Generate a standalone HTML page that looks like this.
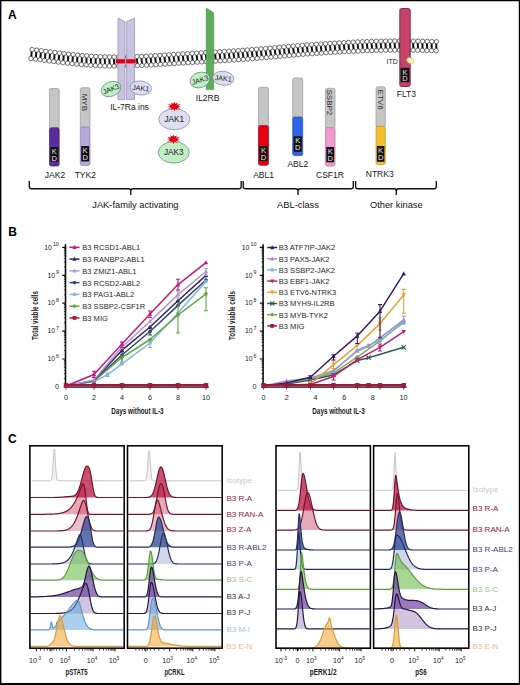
<!DOCTYPE html>
<html><head><meta charset="utf-8"><style>
html,body{margin:0;padding:0;background:#fff;}
svg{display:block;font-family:"Liberation Sans", sans-serif;}
</style></head><body>
<svg width="520" height="685" viewBox="0 0 520 685">
<rect x="0" y="0" width="520" height="685" fill="#fff"/>
<text x="8" y="18.6" font-size="12" font-weight="bold" fill="#000">A</text>
<g>
<path d="M31.81 49.49L31.19 58.51M36.38 50.1L35.76 59.12M40.94 50.72L40.34 59.74M45.51 51.32L44.91 60.34M50.07 51.92L49.5 60.94M54.62 52.5L54.09 61.53M59.18 53.07L58.68 62.1M63.74 53.61L63.28 62.65M68.29 54.12L67.89 63.17M72.84 54.61L72.51 63.66M77.39 55.06L77.13 64.12M81.95 55.48L81.76 64.54M86.5 55.85L86.4 64.92M91.05 56.17L91.05 65.25M95.6 56.45L95.7 65.53M100.15 56.66L100.37 65.76M104.7 56.83L105.03 65.92M109.25 56.93L109.69 66.03M113.81 56.99L114.36 66.09M118.38 56.99L119.01 66.09M122.94 56.95L123.67 66.05M127.51 56.86L128.32 65.96M132.08 56.74L132.97 65.83M136.65 56.57L137.61 65.67M141.23 56.38L142.25 65.47M145.81 56.15L146.88 65.24M150.39 55.9L151.51 64.98M154.97 55.63L156.13 64.71M159.56 55.34L160.74 64.42M164.16 55.04L165.35 64.13M168.76 54.74L169.95 63.82M173.36 54.44L174.55 63.52M177.97 54.15L179.14 63.23M182.58 53.87L183.73 62.95M187.2 53.59L188.32 62.68M191.81 53.33L192.92 62.41M196.41 53.07L197.52 62.15M201.02 52.81L202.12 61.9M205.62 52.56L206.73 61.64M210.22 52.3L211.33 61.38M214.82 52.04L215.94 61.12M219.41 51.77L220.55 60.85M224.01 51.49L225.16 60.57M228.6 51.2L229.78 60.28M233.19 50.9L234.39 59.98M237.78 50.6L239 59.68M242.37 50.28L243.61 59.36M246.95 49.95L248.22 59.03M251.54 49.61L252.83 58.68M256.12 49.25L257.44 58.33M260.71 48.89L262.05 57.96M265.29 48.5L266.66 57.57M269.86 48.11L271.27 57.17M274.44 47.69L275.87 56.76M279.03 47.27L280.47 56.33M283.62 46.85L285.06 55.91M288.22 46.42L289.64 55.49M292.83 46.01L294.22 55.08M297.44 45.62L298.79 54.69M302.06 45.25L303.36 54.32M306.69 44.91L307.94 53.98M311.3 44.59L312.52 53.67M315.92 44.28L317.1 53.36M320.53 43.99L321.69 53.08M325.14 43.71L326.29 52.8M329.75 43.44L330.89 52.52M334.35 43.17L335.49 52.25M338.96 42.9L340.08 51.99M343.58 42.64L344.68 51.73M348.19 42.39L349.27 51.48M352.81 42.15L353.86 51.24M357.43 41.93L358.45 51.02M362.06 41.73L363.04 50.82M366.69 41.55L367.62 50.65M371.32 41.4L372.2 50.49M375.96 41.27L376.79 50.36M380.59 41.16L381.37 50.26M385.22 41.08L385.96 50.18M389.86 41.03L390.54 50.13M394.49 41L395.13 50.09M399.12 40.99L399.72 50.09M403.76 41L404.31 50.1M408.39 41.03L408.9 50.13M413.02 41.09L413.49 50.19M417.65 41.16L418.08 50.26M422.28 41.26L422.67 50.36M426.9 41.37L427.26 50.47M431.53 41.5L431.85 50.6M436.15 41.65L436.45 50.75" stroke="#111" stroke-width="2.0" fill="none"/>
<g fill="#fff" stroke="#2a2a2a" stroke-width="0.65"><circle cx="32.11" cy="49.49" r="2.2"/><circle cx="30.89" cy="58.51" r="2.2"/><circle cx="36.68" cy="50.1" r="2.2"/><circle cx="35.46" cy="59.12" r="2.2"/><circle cx="41.24" cy="50.72" r="2.2"/><circle cx="40.04" cy="59.74" r="2.2"/><circle cx="45.81" cy="51.32" r="2.2"/><circle cx="44.61" cy="60.34" r="2.2"/><circle cx="50.37" cy="51.92" r="2.2"/><circle cx="49.2" cy="60.94" r="2.2"/><circle cx="54.92" cy="52.5" r="2.2"/><circle cx="53.79" cy="61.53" r="2.2"/><circle cx="59.48" cy="53.07" r="2.2"/><circle cx="58.38" cy="62.1" r="2.2"/><circle cx="64.04" cy="53.61" r="2.2"/><circle cx="62.98" cy="62.65" r="2.2"/><circle cx="68.59" cy="54.12" r="2.2"/><circle cx="67.59" cy="63.17" r="2.2"/><circle cx="73.14" cy="54.61" r="2.2"/><circle cx="72.21" cy="63.66" r="2.2"/><circle cx="77.69" cy="55.06" r="2.2"/><circle cx="76.83" cy="64.12" r="2.2"/><circle cx="82.25" cy="55.48" r="2.2"/><circle cx="81.46" cy="64.54" r="2.2"/><circle cx="86.8" cy="55.85" r="2.2"/><circle cx="86.1" cy="64.92" r="2.2"/><circle cx="91.35" cy="56.17" r="2.2"/><circle cx="90.75" cy="65.25" r="2.2"/><circle cx="95.9" cy="56.45" r="2.2"/><circle cx="95.4" cy="65.53" r="2.2"/><circle cx="100.45" cy="56.66" r="2.2"/><circle cx="100.07" cy="65.76" r="2.2"/><circle cx="105" cy="56.83" r="2.2"/><circle cx="104.73" cy="65.92" r="2.2"/><circle cx="109.55" cy="56.93" r="2.2"/><circle cx="109.39" cy="66.03" r="2.2"/><circle cx="114.11" cy="56.99" r="2.2"/><circle cx="114.06" cy="66.09" r="2.2"/><circle cx="118.68" cy="56.99" r="2.2"/><circle cx="118.71" cy="66.09" r="2.2"/><circle cx="123.24" cy="56.95" r="2.2"/><circle cx="123.37" cy="66.05" r="2.2"/><circle cx="127.81" cy="56.86" r="2.2"/><circle cx="128.02" cy="65.96" r="2.2"/><circle cx="132.38" cy="56.74" r="2.2"/><circle cx="132.67" cy="65.83" r="2.2"/><circle cx="136.95" cy="56.57" r="2.2"/><circle cx="137.31" cy="65.67" r="2.2"/><circle cx="141.53" cy="56.38" r="2.2"/><circle cx="141.95" cy="65.47" r="2.2"/><circle cx="146.11" cy="56.15" r="2.2"/><circle cx="146.58" cy="65.24" r="2.2"/><circle cx="150.69" cy="55.9" r="2.2"/><circle cx="151.21" cy="64.98" r="2.2"/><circle cx="155.27" cy="55.63" r="2.2"/><circle cx="155.83" cy="64.71" r="2.2"/><circle cx="159.86" cy="55.34" r="2.2"/><circle cx="160.44" cy="64.42" r="2.2"/><circle cx="164.46" cy="55.04" r="2.2"/><circle cx="165.05" cy="64.13" r="2.2"/><circle cx="169.06" cy="54.74" r="2.2"/><circle cx="169.65" cy="63.82" r="2.2"/><circle cx="173.66" cy="54.44" r="2.2"/><circle cx="174.25" cy="63.52" r="2.2"/><circle cx="178.27" cy="54.15" r="2.2"/><circle cx="178.84" cy="63.23" r="2.2"/><circle cx="182.88" cy="53.87" r="2.2"/><circle cx="183.43" cy="62.95" r="2.2"/><circle cx="187.5" cy="53.59" r="2.2"/><circle cx="188.02" cy="62.68" r="2.2"/><circle cx="192.11" cy="53.33" r="2.2"/><circle cx="192.62" cy="62.41" r="2.2"/><circle cx="196.71" cy="53.07" r="2.2"/><circle cx="197.22" cy="62.15" r="2.2"/><circle cx="201.32" cy="52.81" r="2.2"/><circle cx="201.82" cy="61.9" r="2.2"/><circle cx="205.92" cy="52.56" r="2.2"/><circle cx="206.43" cy="61.64" r="2.2"/><circle cx="210.52" cy="52.3" r="2.2"/><circle cx="211.03" cy="61.38" r="2.2"/><circle cx="215.12" cy="52.04" r="2.2"/><circle cx="215.64" cy="61.12" r="2.2"/><circle cx="219.71" cy="51.77" r="2.2"/><circle cx="220.25" cy="60.85" r="2.2"/><circle cx="224.31" cy="51.49" r="2.2"/><circle cx="224.86" cy="60.57" r="2.2"/><circle cx="228.9" cy="51.2" r="2.2"/><circle cx="229.48" cy="60.28" r="2.2"/><circle cx="233.49" cy="50.9" r="2.2"/><circle cx="234.09" cy="59.98" r="2.2"/><circle cx="238.08" cy="50.6" r="2.2"/><circle cx="238.7" cy="59.68" r="2.2"/><circle cx="242.67" cy="50.28" r="2.2"/><circle cx="243.31" cy="59.36" r="2.2"/><circle cx="247.25" cy="49.95" r="2.2"/><circle cx="247.92" cy="59.03" r="2.2"/><circle cx="251.84" cy="49.61" r="2.2"/><circle cx="252.53" cy="58.68" r="2.2"/><circle cx="256.42" cy="49.25" r="2.2"/><circle cx="257.14" cy="58.33" r="2.2"/><circle cx="261.01" cy="48.89" r="2.2"/><circle cx="261.75" cy="57.96" r="2.2"/><circle cx="265.59" cy="48.5" r="2.2"/><circle cx="266.36" cy="57.57" r="2.2"/><circle cx="270.16" cy="48.11" r="2.2"/><circle cx="270.97" cy="57.17" r="2.2"/><circle cx="274.74" cy="47.69" r="2.2"/><circle cx="275.57" cy="56.76" r="2.2"/><circle cx="279.33" cy="47.27" r="2.2"/><circle cx="280.17" cy="56.33" r="2.2"/><circle cx="283.92" cy="46.85" r="2.2"/><circle cx="284.76" cy="55.91" r="2.2"/><circle cx="288.52" cy="46.42" r="2.2"/><circle cx="289.34" cy="55.49" r="2.2"/><circle cx="293.13" cy="46.01" r="2.2"/><circle cx="293.92" cy="55.08" r="2.2"/><circle cx="297.74" cy="45.62" r="2.2"/><circle cx="298.49" cy="54.69" r="2.2"/><circle cx="302.36" cy="45.25" r="2.2"/><circle cx="303.06" cy="54.32" r="2.2"/><circle cx="306.99" cy="44.91" r="2.2"/><circle cx="307.64" cy="53.98" r="2.2"/><circle cx="311.6" cy="44.59" r="2.2"/><circle cx="312.22" cy="53.67" r="2.2"/><circle cx="316.22" cy="44.28" r="2.2"/><circle cx="316.8" cy="53.36" r="2.2"/><circle cx="320.83" cy="43.99" r="2.2"/><circle cx="321.39" cy="53.08" r="2.2"/><circle cx="325.44" cy="43.71" r="2.2"/><circle cx="325.99" cy="52.8" r="2.2"/><circle cx="330.05" cy="43.44" r="2.2"/><circle cx="330.59" cy="52.52" r="2.2"/><circle cx="334.65" cy="43.17" r="2.2"/><circle cx="335.19" cy="52.25" r="2.2"/><circle cx="339.26" cy="42.9" r="2.2"/><circle cx="339.78" cy="51.99" r="2.2"/><circle cx="343.88" cy="42.64" r="2.2"/><circle cx="344.38" cy="51.73" r="2.2"/><circle cx="348.49" cy="42.39" r="2.2"/><circle cx="348.97" cy="51.48" r="2.2"/><circle cx="353.11" cy="42.15" r="2.2"/><circle cx="353.56" cy="51.24" r="2.2"/><circle cx="357.73" cy="41.93" r="2.2"/><circle cx="358.15" cy="51.02" r="2.2"/><circle cx="362.36" cy="41.73" r="2.2"/><circle cx="362.74" cy="50.82" r="2.2"/><circle cx="366.99" cy="41.55" r="2.2"/><circle cx="367.32" cy="50.65" r="2.2"/><circle cx="371.62" cy="41.4" r="2.2"/><circle cx="371.9" cy="50.49" r="2.2"/><circle cx="376.26" cy="41.27" r="2.2"/><circle cx="376.49" cy="50.36" r="2.2"/><circle cx="380.89" cy="41.16" r="2.2"/><circle cx="381.07" cy="50.26" r="2.2"/><circle cx="385.52" cy="41.08" r="2.2"/><circle cx="385.66" cy="50.18" r="2.2"/><circle cx="390.16" cy="41.03" r="2.2"/><circle cx="390.24" cy="50.13" r="2.2"/><circle cx="394.79" cy="41" r="2.2"/><circle cx="394.83" cy="50.09" r="2.2"/><circle cx="399.42" cy="40.99" r="2.2"/><circle cx="399.42" cy="50.09" r="2.2"/><circle cx="404.06" cy="41" r="2.2"/><circle cx="404.01" cy="50.1" r="2.2"/><circle cx="408.69" cy="41.03" r="2.2"/><circle cx="408.6" cy="50.13" r="2.2"/><circle cx="413.32" cy="41.09" r="2.2"/><circle cx="413.19" cy="50.19" r="2.2"/><circle cx="417.95" cy="41.16" r="2.2"/><circle cx="417.78" cy="50.26" r="2.2"/><circle cx="422.58" cy="41.26" r="2.2"/><circle cx="422.37" cy="50.36" r="2.2"/><circle cx="427.2" cy="41.37" r="2.2"/><circle cx="426.96" cy="50.47" r="2.2"/><circle cx="431.83" cy="41.5" r="2.2"/><circle cx="431.55" cy="50.6" r="2.2"/><circle cx="436.45" cy="41.65" r="2.2"/><circle cx="436.15" cy="50.75" r="2.2"/></g>
</g>
<polygon points="118,18 125,21.7 125,99.5 118,99.5" fill="#c8c3e0" stroke="#9d97bd" stroke-width="0.8"/>
<polygon points="126.6,21.7 134.6,18 134.6,99.5 126.6,99.5" fill="#c8c3e0" stroke="#9d97bd" stroke-width="0.8"/>
<rect x="115.8" y="59.2" width="9.6" height="4.2" fill="#e4001c"/>
<rect x="126.2" y="59.2" width="9.6" height="4.2" fill="#e4001c"/>
<polygon points="206.2,8 213.7,12.8 213.7,89.6 206.2,89.6" fill="#5dab5b" stroke="#4c8f4c" stroke-width="0.6"/>
<g transform="translate(111,89) rotate(-22)"><ellipse cx="0" cy="0" rx="10.2" ry="7.2" fill="#c0eec6" stroke="#5c8c64" stroke-width="0.7"/><text x="0" y="2.59" font-size="7.2" text-anchor="middle" fill="#222">JAK3</text></g>
<g transform="translate(140.7,88) rotate(6)"><ellipse cx="0" cy="0" rx="10.8" ry="7" fill="#dcdff0" stroke="#7c82a4" stroke-width="0.7"/><text x="0" y="2.59" font-size="7.2" text-anchor="middle" fill="#222">JAK1</text></g>
<g transform="translate(200,80) rotate(-18)"><ellipse cx="0" cy="0" rx="10.2" ry="7.6" fill="#c0eec6" stroke="#5c8c64" stroke-width="0.7"/><text x="0" y="2.59" font-size="7.2" text-anchor="middle" fill="#222">JAK3</text></g>
<g transform="translate(223.3,78.3) rotate(6)"><ellipse cx="0" cy="0" rx="10.6" ry="7" fill="#dcdff0" stroke="#7c82a4" stroke-width="0.7"/><text x="0" y="2.59" font-size="7.2" text-anchor="middle" fill="#222">JAK1</text></g>
<g transform="translate(174.3,119.3) rotate(0)"><ellipse cx="0" cy="0" rx="15.5" ry="10.5" fill="#dcdff0" stroke="#7c82a4" stroke-width="0.7"/><text x="0" y="2.95" font-size="8.2" text-anchor="middle" fill="#222">JAK1</text></g>
<g transform="translate(173.8,152.4) rotate(0)"><ellipse cx="0" cy="0" rx="15.5" ry="10.7" fill="#c0eec6" stroke="#5c8c64" stroke-width="0.7"/><text x="0" y="2.95" font-size="8.2" text-anchor="middle" fill="#222">JAK3</text></g>
<polygon points="174.3,101.9 175.41,103.75 177.71,102.61 176.75,104.83 180.71,104.03 178.36,105.7 180.77,106.4 177.77,107 180.96,108.86 177.15,108.23 177.44,109.88 175.28,108.75 174.3,111.4 173.31,108.76 171.17,109.88 171.46,108.22 167.63,108.87 170.81,107 167.85,106.4 170.25,105.7 167.86,104.02 171.85,104.83 170.9,102.63 173.19,103.75" fill="#e6000f"/>
<polygon points="173.5,134.7 174.61,136.55 176.91,135.41 175.95,137.63 179.91,136.83 177.56,138.5 179.97,139.2 176.97,139.8 180.16,141.66 176.35,141.03 176.64,142.68 174.48,141.55 173.5,144.2 172.51,141.56 170.37,142.68 170.66,141.02 166.83,141.67 170.01,139.8 167.05,139.2 169.45,138.5 167.06,136.82 171.05,137.63 170.1,135.43 172.39,136.55" fill="#e6000f"/>
<rect x="49.5" y="88.5" width="9.7" height="40.2" rx="1.8" fill="#c6c6c6" stroke="#9a9a9a" stroke-width="0.7"/>
<rect x="49.5" y="127.7" width="9.7" height="38.3" rx="1.8" fill="#5b2c9c" stroke="#45207a" stroke-width="0.7"/>
<rect x="50.4" y="147" width="7.9" height="14.5" fill="#111"/>
<text x="54.35" y="153.6" font-size="7.6" fill="#e4e4e4" text-anchor="middle">K</text>
<text x="54.35" y="160.9" font-size="7.6" fill="#e4e4e4" text-anchor="middle">D</text>
<rect x="80.3" y="87.7" width="9.7" height="40.3" rx="1.8" fill="#c6c6c6" stroke="#9a9a9a" stroke-width="0.7"/>
<rect x="80.3" y="127" width="9.7" height="38.4" rx="1.8" fill="#b6a8d8" stroke="#8c7cb4" stroke-width="0.7"/>
<rect x="81.2" y="146" width="7.9" height="15.5" fill="#111"/>
<text x="85.15" y="152.6" font-size="7.6" fill="#e4e4e4" text-anchor="middle">K</text>
<text x="85.15" y="159.9" font-size="7.6" fill="#e4e4e4" text-anchor="middle">D</text>
<text transform="translate(82.35,93.7) rotate(90)" font-size="8" fill="#2e2e2e">MYB</text>
<rect x="258.5" y="87.3" width="10" height="39.3" rx="1.8" fill="#c6c6c6" stroke="#9a9a9a" stroke-width="0.7"/>
<rect x="258.5" y="125.6" width="10" height="39.6" rx="1.8" fill="#e6000f" stroke="#b00010" stroke-width="0.7"/>
<rect x="259.4" y="146" width="8.2" height="15" fill="#111"/>
<text x="263.5" y="152.6" font-size="7.6" fill="#e4e4e4" text-anchor="middle">K</text>
<text x="263.5" y="159.9" font-size="7.6" fill="#e4e4e4" text-anchor="middle">D</text>
<rect x="292.7" y="78" width="10" height="40" rx="1.8" fill="#c6c6c6" stroke="#9a9a9a" stroke-width="0.7"/>
<rect x="292.7" y="117" width="10" height="38.6" rx="1.8" fill="#2f63e6" stroke="#2248b0" stroke-width="0.7"/>
<rect x="293.6" y="136.3" width="8.2" height="15.4" fill="#111"/>
<text x="297.7" y="142.9" font-size="7.6" fill="#e4e4e4" text-anchor="middle">K</text>
<text x="297.7" y="150.2" font-size="7.6" fill="#e4e4e4" text-anchor="middle">D</text>
<rect x="325.4" y="88.3" width="9.6" height="40.4" rx="1.8" fill="#c6c6c6" stroke="#9a9a9a" stroke-width="0.7"/>
<rect x="325.4" y="127.7" width="9.6" height="38.3" rx="1.8" fill="#ef9ccd" stroke="#c070a0" stroke-width="0.7"/>
<rect x="326.3" y="147" width="7.8" height="15.3" fill="#111"/>
<text x="330.2" y="153.6" font-size="7.6" fill="#e4e4e4" text-anchor="middle">K</text>
<text x="330.2" y="160.9" font-size="7.6" fill="#e4e4e4" text-anchor="middle">D</text>
<text transform="translate(327.4,89.5) rotate(90)" font-size="8" fill="#2e2e2e">SSBP2</text>
<rect x="376" y="86.8" width="9.3" height="40.5" rx="1.8" fill="#c6c6c6" stroke="#9a9a9a" stroke-width="0.7"/>
<rect x="376" y="126.3" width="9.3" height="38.2" rx="1.8" fill="#f0c030" stroke="#c09020" stroke-width="0.7"/>
<rect x="376.9" y="146" width="7.5" height="15.8" fill="#111"/>
<text x="380.65" y="152.6" font-size="7.6" fill="#e4e4e4" text-anchor="middle">K</text>
<text x="380.65" y="159.9" font-size="7.6" fill="#e4e4e4" text-anchor="middle">D</text>
<text transform="translate(377.85,89.6) rotate(90)" font-size="8" fill="#2e2e2e">ETV6</text>
<rect x="399.8" y="8.5" width="10.4" height="78" rx="1.8" fill="#c6426b" stroke="#7a2040" stroke-width="0.9"/>
<rect x="400.6" y="67.9" width="8.8" height="14.3" fill="#111"/>
<text x="405" y="74.7" font-size="7.4" fill="#e4e4e4" text-anchor="middle">K</text>
<text x="405" y="81.4" font-size="7.4" fill="#e4e4e4" text-anchor="middle">D</text>
<g transform="translate(410.2,60.6) rotate(30)"><polygon points="0,-3.96 1.09,-2.27 3.26,-2.95 2.23,-0.98 5.42,-0.73 3.08,0.41 4.17,1.83 1.72,1.55 1.96,4.08 0,2.27 -1.59,3.32 -1.81,1.64 -5.02,2.2 -2.79,0.37 -4.59,-0.61 -2.59,-1.13 -3.68,-3.33 -0.92,-1.91" fill="#b4cc4c"/><ellipse rx="3.3" ry="2.4" fill="#f8f4b0"/></g>
<text x="55" y="177.7" font-size="8.5" text-anchor="middle" fill="#161616">JAK2</text>
<text x="85.3" y="177.7" font-size="8.5" text-anchor="middle" fill="#161616">TYK2</text>
<text x="263.6" y="177.7" font-size="8.5" text-anchor="middle" fill="#161616">ABL1</text>
<text x="297.8" y="166.5" font-size="8.5" text-anchor="middle" fill="#161616">ABL2</text>
<text x="330" y="178.2" font-size="8.5" text-anchor="middle" fill="#161616">CSF1R</text>
<text x="379.7" y="176.6" font-size="8.5" text-anchor="middle" fill="#161616">NTRK3</text>
<text x="406.3" y="96.8" font-size="8.5" text-anchor="middle" fill="#161616">FLT3</text>
<text x="129.5" y="109.7" font-size="8.5" text-anchor="middle" fill="#161616">IL-7Ra ins</text>
<text x="207.6" y="101.0" font-size="8.5" text-anchor="middle" fill="#161616">IL2RB</text>
<text x="392.1" y="63.6" font-size="7" text-anchor="middle" fill="#222">ITD</text>
<path d="M29.3 181 L29.3 186.5 Q29.3 188.7 31.5 188.7 L128.60000000000002 188.7 Q130.8 188.7 130.8 190.89999999999998 L130.8 195 M130.8 190.89999999999998 Q130.8 188.7 133.0 188.7 L239.0 188.7 Q241.2 188.7 241.2 186.5 L241.2 181M243.2 181 L243.2 186.5 Q243.2 188.7 245.39999999999998 188.7 L295.8 188.7 Q298 188.7 298 190.89999999999998 L298 195 M298 190.89999999999998 Q298 188.7 300.2 188.7 L351.1 188.7 Q353.3 188.7 353.3 186.5 L353.3 181M355.6 181 L355.6 186.5 Q355.6 188.7 357.8 188.7 L394.1 188.7 Q396.3 188.7 396.3 190.89999999999998 L396.3 195 M396.3 190.89999999999998 Q396.3 188.7 398.5 188.7 L434.1 188.7 Q436.3 188.7 436.3 186.5 L436.3 181" fill="none" stroke="#111" stroke-width="1.35"/>
<text x="135.4" y="207.6" font-size="9.3" text-anchor="middle" fill="#111">JAK-family activating</text>
<text x="298" y="207.6" font-size="9.3" text-anchor="middle" fill="#111">ABL-class</text>
<text x="396.3" y="207.6" font-size="9.3" text-anchor="middle" fill="#111">Other kinase</text>
<text x="8.2" y="236" font-size="12" font-weight="bold" fill="#000">B</text>
<line x1="65.5" y1="244.2" x2="65.5" y2="387.8" stroke="#111" stroke-width="1.6"/>
<path d="M63.9 378.5H66M63.9 373.59H66M63.9 370.1H66M63.9 367.4H66M63.9 365.19H66M63.9 363.32H66M63.9 361.7H66M63.9 360.28H66M63.9 350.6H66M63.9 345.69H66M63.9 342.2H66M63.9 339.5H66M63.9 337.29H66M63.9 335.42H66M63.9 333.8H66M63.9 332.38H66M63.9 322.7H66M63.9 317.79H66M63.9 314.3H66M63.9 311.6H66M63.9 309.39H66M63.9 307.52H66M63.9 305.9H66M63.9 304.48H66M63.9 294.8H66M63.9 289.89H66M63.9 286.4H66M63.9 283.7H66M63.9 281.49H66M63.9 279.62H66M63.9 278H66M63.9 276.58H66M63.9 266.9H66M63.9 261.99H66M63.9 258.5H66M63.9 255.8H66M63.9 253.59H66M63.9 251.72H66M63.9 250.1H66M63.9 248.68H66" stroke="#111" stroke-width="0.75"/>
<path d="M62.2 359H66M62.2 331.1H66M62.2 303.2H66M62.2 275.3H66M62.2 247.4H66" stroke="#111" stroke-width="1.2"/>
<text transform="translate(55.1,361.2) scale(0.86,1)" font-size="8" text-anchor="end" fill="#1a1a1a">10</text>
<text transform="translate(55.9,357.9) scale(0.9,1)" font-size="5.9" fill="#1a1a1a">6</text>
<text transform="translate(55.1,333.3) scale(0.86,1)" font-size="8" text-anchor="end" fill="#1a1a1a">10</text>
<text transform="translate(55.9,330) scale(0.9,1)" font-size="5.9" fill="#1a1a1a">7</text>
<text transform="translate(55.1,305.4) scale(0.86,1)" font-size="8" text-anchor="end" fill="#1a1a1a">10</text>
<text transform="translate(55.9,302.1) scale(0.9,1)" font-size="5.9" fill="#1a1a1a">8</text>
<text transform="translate(55.1,277.5) scale(0.86,1)" font-size="8" text-anchor="end" fill="#1a1a1a">10</text>
<text transform="translate(55.9,274.2) scale(0.9,1)" font-size="5.9" fill="#1a1a1a">9</text>
<text transform="translate(51.8,249.6) scale(0.86,1)" font-size="8" text-anchor="end" fill="#1a1a1a">10</text>
<text transform="translate(52.9,246.3) scale(0.9,1)" font-size="5.9" fill="#1a1a1a">10</text>
<text x="59" y="389.4" font-size="7.2" text-anchor="end" fill="#222">0</text>
<text transform="translate(37.9,315.5) rotate(-90) scale(0.719,1)" font-size="8.6" font-weight="bold" text-anchor="middle" fill="#1a1a1a">Total viable cells</text>
<line x1="66" y1="387.1" x2="208.8" y2="387.1" stroke="#111" stroke-width="1.4"/>
<path d="M66 386V389.6M94 386V389.6M122 386V389.6M150 386V389.6M178 386V389.6M206 386V389.6" stroke="#111" stroke-width="0.8"/>
<text x="66" y="399.6" font-size="7.2" text-anchor="middle" fill="#222">0</text>
<text x="94" y="399.6" font-size="7.2" text-anchor="middle" fill="#222">2</text>
<text x="122" y="399.6" font-size="7.2" text-anchor="middle" fill="#222">4</text>
<text x="150" y="399.6" font-size="7.2" text-anchor="middle" fill="#222">6</text>
<text x="178" y="399.6" font-size="7.2" text-anchor="middle" fill="#222">8</text>
<text x="206" y="399.6" font-size="7.2" text-anchor="middle" fill="#222">10</text>
<text transform="translate(137.4,413.5) scale(0.737,1)" font-size="8.6" text-anchor="middle" fill="#1a1a1a" font-weight="bold">Days without IL-3</text>
<polyline points="66,386 94,381 122,355 150,331.5 178,305.4 206,280" fill="none" stroke="#2b4a72" stroke-width="1.5" stroke-linejoin="round"/>
<path d="M122 352V363M120 352H124M120 363H124M150 328V335M148 328H152M148 335H152" stroke="#2b4a72" stroke-width="1.1" fill="none"/>
<circle cx="66" cy="386" r="1.87" fill="#2b4a72"/>
<circle cx="94" cy="381" r="1.87" fill="#2b4a72"/>
<circle cx="122" cy="355" r="1.87" fill="#2b4a72"/>
<circle cx="150" cy="331.5" r="1.87" fill="#2b4a72"/>
<circle cx="178" cy="305.4" r="1.87" fill="#2b4a72"/>
<circle cx="206" cy="280" r="1.87" fill="#2b4a72"/>
<polyline points="66,386 94,381.5 107.6,374.6 122,363.8 150,343 178,313 206,281.5" fill="none" stroke="#84b6de" stroke-width="1.5" stroke-linejoin="round"/>
<path d="M150 340.5V347.5M148 340.5H152M148 347.5H152M107.6 373V376.5M105.6 373H109.6M105.6 376.5H109.6" stroke="#84b6de" stroke-width="1.1" fill="none"/>
<circle cx="66" cy="386" r="1.87" fill="#84b6de"/>
<circle cx="94" cy="381.5" r="1.87" fill="#84b6de"/>
<circle cx="107.6" cy="374.6" r="1.87" fill="#84b6de"/>
<circle cx="122" cy="363.8" r="1.87" fill="#84b6de"/>
<circle cx="150" cy="343" r="1.87" fill="#84b6de"/>
<circle cx="178" cy="313" r="1.87" fill="#84b6de"/>
<circle cx="206" cy="281.5" r="1.87" fill="#84b6de"/>
<polyline points="66,386 94,381 122,357.5 150,339.5 178,315 206,293.8" fill="none" stroke="#5fa83c" stroke-width="1.5" stroke-linejoin="round"/>
<path d="M178 300.8V333M176 300.8H180M176 333H180M206 287.7V310.8M204 287.7H208M204 310.8H208" stroke="#5fa83c" stroke-width="1.1" fill="none"/>
<polygon points="66,383.8 68.2,386 66,388.2 63.8,386" fill="#5fa83c"/>
<polygon points="94,378.8 96.2,381 94,383.2 91.8,381" fill="#5fa83c"/>
<polygon points="122,355.3 124.2,357.5 122,359.7 119.8,357.5" fill="#5fa83c"/>
<polygon points="150,337.3 152.2,339.5 150,341.7 147.8,339.5" fill="#5fa83c"/>
<polygon points="178,312.8 180.2,315 178,317.2 175.8,315" fill="#5fa83c"/>
<polygon points="206,291.6 208.2,293.8 206,296 203.8,293.8" fill="#5fa83c"/>
<polyline points="66,386 94,380.5 122,350.2 150,327 178,300.8 206,275.4" fill="none" stroke="#3a2162" stroke-width="1.5" stroke-linejoin="round"/>
<polygon points="66,383.58 68.2,387.76 63.8,387.76" fill="#3a2162"/>
<polygon points="94,378.08 96.2,382.26 91.8,382.26" fill="#3a2162"/>
<polygon points="122,347.78 124.2,351.96 119.8,351.96" fill="#3a2162"/>
<polygon points="150,324.58 152.2,328.76 147.8,328.76" fill="#3a2162"/>
<polygon points="178,298.38 180.2,302.56 175.8,302.56" fill="#3a2162"/>
<polygon points="206,272.98 208.2,277.16 203.8,277.16" fill="#3a2162"/>
<polyline points="66,386 94,380 122,347 150,321.5 178,294.6 206,271.5" fill="none" stroke="#a49cd0" stroke-width="1.5" stroke-linejoin="round"/>
<path d="M206 268.5V275.4M204 268.5H208M204 275.4H208M178 291V298M176 291H180M176 298H180" stroke="#a49cd0" stroke-width="1.1" fill="none"/>
<polygon points="66,383.58 68.2,387.76 63.8,387.76" fill="#a49cd0"/>
<polygon points="94,377.58 96.2,381.76 91.8,381.76" fill="#a49cd0"/>
<polygon points="122,344.58 124.2,348.76 119.8,348.76" fill="#a49cd0"/>
<polygon points="150,319.08 152.2,323.26 147.8,323.26" fill="#a49cd0"/>
<polygon points="178,292.18 180.2,296.36 175.8,296.36" fill="#a49cd0"/>
<polygon points="206,269.08 208.2,273.26 203.8,273.26" fill="#a49cd0"/>
<polyline points="66,386 94,374.5 122,344 150,314 178,284.6 206,262.6" fill="none" stroke="#c8177c" stroke-width="1.5" stroke-linejoin="round"/>
<path d="M94 371.3V377.5M92 371.3H96M92 377.5H96M122 342V347.5M120 342H124M120 347.5H124M150 311V317.5M148 311H152M148 317.5H152M178 279.2V290M176 279.2H180M176 290H180" stroke="#c8177c" stroke-width="1.1" fill="none"/>
<polygon points="66,383.58 68.2,387.76 63.8,387.76" fill="#c8177c"/>
<polygon points="94,372.08 96.2,376.26 91.8,376.26" fill="#c8177c"/>
<polygon points="122,341.58 124.2,345.76 119.8,345.76" fill="#c8177c"/>
<polygon points="150,311.58 152.2,315.76 147.8,315.76" fill="#c8177c"/>
<polygon points="178,282.18 180.2,286.36 175.8,286.36" fill="#c8177c"/>
<polygon points="206,260.18 208.2,264.36 203.8,264.36" fill="#c8177c"/>
<polyline points="66,385.3 94,385.3 122,385.3 150,385.3 178,385.3 206,385.3" fill="none" stroke="#a3173a" stroke-width="2.5" stroke-linejoin="round"/>
<rect x="63.75" y="383.05" width="4.5" height="4.5" fill="#a3173a"/>
<rect x="91.75" y="383.05" width="4.5" height="4.5" fill="#a3173a"/>
<rect x="119.75" y="383.05" width="4.5" height="4.5" fill="#a3173a"/>
<rect x="147.75" y="383.05" width="4.5" height="4.5" fill="#a3173a"/>
<rect x="175.75" y="383.05" width="4.5" height="4.5" fill="#a3173a"/>
<rect x="203.75" y="383.05" width="4.5" height="4.5" fill="#a3173a"/>
<line x1="69.5" y1="247.3" x2="79.5" y2="247.3" stroke="#c8177c" stroke-width="1.5"/>
<polygon points="74.5,244.99 76.6,248.98 72.4,248.98" fill="#c8177c"/>
<text x="82.3" y="250.25" font-size="7.55" fill="#2a2a2a">B3 RCSD1-ABL1</text>
<line x1="69.5" y1="259.07" x2="79.5" y2="259.07" stroke="#3a2162" stroke-width="1.5"/>
<polygon points="74.5,256.76 76.6,260.75 72.4,260.75" fill="#3a2162"/>
<text x="82.3" y="262.02" font-size="7.55" fill="#2a2a2a">B3 RANBP2-ABL1</text>
<line x1="69.5" y1="270.84" x2="79.5" y2="270.84" stroke="#a49cd0" stroke-width="1.5"/>
<polygon points="74.5,268.53 76.6,272.52 72.4,272.52" fill="#a49cd0"/>
<text x="82.3" y="273.79" font-size="7.55" fill="#2a2a2a">B3 ZMIZ1-ABL1</text>
<line x1="69.5" y1="282.61" x2="79.5" y2="282.61" stroke="#2b4a72" stroke-width="1.5"/>
<circle cx="74.5" cy="282.61" r="1.78" fill="#2b4a72"/>
<text x="82.3" y="285.56" font-size="7.55" fill="#2a2a2a">B3 RCSD2-ABL2</text>
<line x1="69.5" y1="294.38" x2="79.5" y2="294.38" stroke="#84b6de" stroke-width="1.5"/>
<circle cx="74.5" cy="294.38" r="1.78" fill="#84b6de"/>
<text x="82.3" y="297.33" font-size="7.55" fill="#2a2a2a">B3 PAG1-ABL2</text>
<line x1="69.5" y1="306.15" x2="79.5" y2="306.15" stroke="#5fa83c" stroke-width="1.5"/>
<polygon points="74.5,304.05 76.6,306.15 74.5,308.25 72.4,306.15" fill="#5fa83c"/>
<text x="82.3" y="309.1" font-size="7.55" fill="#2a2a2a">B3 SSBP2-CSF1R</text>
<line x1="69.5" y1="317.92" x2="79.5" y2="317.92" stroke="#a3173a" stroke-width="1.5"/>
<rect x="72.61" y="316.03" width="3.78" height="3.78" fill="#a3173a"/>
<text x="82.3" y="320.87" font-size="7.55" fill="#2a2a2a">B3 MIG</text>
<line x1="263.1" y1="244.2" x2="263.1" y2="387.8" stroke="#111" stroke-width="1.6"/>
<path d="M261.5 378.5H263.6M261.5 373.59H263.6M261.5 370.1H263.6M261.5 367.4H263.6M261.5 365.19H263.6M261.5 363.32H263.6M261.5 361.7H263.6M261.5 360.28H263.6M261.5 350.6H263.6M261.5 345.69H263.6M261.5 342.2H263.6M261.5 339.5H263.6M261.5 337.29H263.6M261.5 335.42H263.6M261.5 333.8H263.6M261.5 332.38H263.6M261.5 322.7H263.6M261.5 317.79H263.6M261.5 314.3H263.6M261.5 311.6H263.6M261.5 309.39H263.6M261.5 307.52H263.6M261.5 305.9H263.6M261.5 304.48H263.6M261.5 294.8H263.6M261.5 289.89H263.6M261.5 286.4H263.6M261.5 283.7H263.6M261.5 281.49H263.6M261.5 279.62H263.6M261.5 278H263.6M261.5 276.58H263.6M261.5 266.9H263.6M261.5 261.99H263.6M261.5 258.5H263.6M261.5 255.8H263.6M261.5 253.59H263.6M261.5 251.72H263.6M261.5 250.1H263.6M261.5 248.68H263.6" stroke="#111" stroke-width="0.75"/>
<path d="M259.8 359H263.6M259.8 331.1H263.6M259.8 303.2H263.6M259.8 275.3H263.6M259.8 247.4H263.6" stroke="#111" stroke-width="1.2"/>
<text transform="translate(252.7,361.2) scale(0.86,1)" font-size="8" text-anchor="end" fill="#1a1a1a">10</text>
<text transform="translate(253.5,357.9) scale(0.9,1)" font-size="5.9" fill="#1a1a1a">6</text>
<text transform="translate(252.7,333.3) scale(0.86,1)" font-size="8" text-anchor="end" fill="#1a1a1a">10</text>
<text transform="translate(253.5,330) scale(0.9,1)" font-size="5.9" fill="#1a1a1a">7</text>
<text transform="translate(252.7,305.4) scale(0.86,1)" font-size="8" text-anchor="end" fill="#1a1a1a">10</text>
<text transform="translate(253.5,302.1) scale(0.9,1)" font-size="5.9" fill="#1a1a1a">8</text>
<text transform="translate(252.7,277.5) scale(0.86,1)" font-size="8" text-anchor="end" fill="#1a1a1a">10</text>
<text transform="translate(253.5,274.2) scale(0.9,1)" font-size="5.9" fill="#1a1a1a">9</text>
<text transform="translate(249.4,249.6) scale(0.86,1)" font-size="8" text-anchor="end" fill="#1a1a1a">10</text>
<text transform="translate(250.5,246.3) scale(0.9,1)" font-size="5.9" fill="#1a1a1a">10</text>
<text x="256.6" y="389.4" font-size="7.2" text-anchor="end" fill="#222">0</text>
<text transform="translate(235.1,315.5) rotate(-90) scale(0.719,1)" font-size="8.6" font-weight="bold" text-anchor="middle" fill="#1a1a1a">Total viable cells</text>
<line x1="263.6" y1="387.1" x2="406.5" y2="387.1" stroke="#111" stroke-width="1.4"/>
<path d="M263.6 386V389.6M286.7 386V389.6M310.4 386V389.6M333.5 386V389.6M357.3 386V389.6M380 386V389.6M403.7 386V389.6" stroke="#111" stroke-width="0.8"/>
<text x="263.6" y="399.6" font-size="7.2" text-anchor="middle" fill="#222">0</text>
<text x="286.7" y="399.6" font-size="7.2" text-anchor="middle" fill="#222">2</text>
<text x="315.6" y="399.6" font-size="7.2" text-anchor="middle" fill="#222">4</text>
<text x="344.2" y="399.6" font-size="7.2" text-anchor="middle" fill="#222">6</text>
<text x="372.8" y="399.6" font-size="7.2" text-anchor="middle" fill="#222">8</text>
<text x="403.6" y="399.6" font-size="7.2" text-anchor="middle" fill="#222">10</text>
<text transform="translate(338.5,413.5) scale(0.737,1)" font-size="8.6" text-anchor="middle" fill="#1a1a1a" font-weight="bold">Days without IL-3</text>
<polyline points="263.6,386 286.7,384 310.4,379 333.5,373 357.3,357 380,341 403.7,321.7" fill="none" stroke="#6cab3c" stroke-width="1.5" stroke-linejoin="round"/>
<polygon points="263.6,383.8 265.8,386 263.6,388.2 261.4,386" fill="#6cab3c"/>
<polygon points="286.7,381.8 288.9,384 286.7,386.2 284.5,384" fill="#6cab3c"/>
<polygon points="310.4,376.8 312.6,379 310.4,381.2 308.2,379" fill="#6cab3c"/>
<polygon points="333.5,370.8 335.7,373 333.5,375.2 331.3,373" fill="#6cab3c"/>
<polygon points="357.3,354.8 359.5,357 357.3,359.2 355.1,357" fill="#6cab3c"/>
<polygon points="380,338.8 382.2,341 380,343.2 377.8,341" fill="#6cab3c"/>
<polygon points="403.7,319.5 405.9,321.7 403.7,323.9 401.5,321.7" fill="#6cab3c"/>
<polyline points="263.6,386 286.7,384 310.4,380 333.5,375 357.3,360.6 368.6,357.7 403.7,347.3" fill="none" stroke="#2f5c4c" stroke-width="1.5" stroke-linejoin="round"/>
<path d="M261.4 383.8L265.8 388.2M261.4 388.2L265.8 383.8" stroke="#2f5c4c" stroke-width="1.1"/>
<path d="M284.5 381.8L288.9 386.2M284.5 386.2L288.9 381.8" stroke="#2f5c4c" stroke-width="1.1"/>
<path d="M308.2 377.8L312.6 382.2M308.2 382.2L312.6 377.8" stroke="#2f5c4c" stroke-width="1.1"/>
<path d="M331.3 372.8L335.7 377.2M331.3 377.2L335.7 372.8" stroke="#2f5c4c" stroke-width="1.1"/>
<path d="M355.1 358.4L359.5 362.8M355.1 362.8L359.5 358.4" stroke="#2f5c4c" stroke-width="1.1"/>
<path d="M366.4 355.5L370.8 359.9M366.4 359.9L370.8 355.5" stroke="#2f5c4c" stroke-width="1.1"/>
<path d="M401.5 345.1L405.9 349.5M401.5 349.5L405.9 345.1" stroke="#2f5c4c" stroke-width="1.1"/>
<polyline points="263.6,386 286.7,383 310.4,378.5 333.5,371.5 357.3,350 368.6,345.4 380,340 403.7,322.6" fill="none" stroke="#7cb7e2" stroke-width="1.5" stroke-linejoin="round"/>
<circle cx="263.6" cy="386" r="1.87" fill="#7cb7e2"/>
<circle cx="286.7" cy="383" r="1.87" fill="#7cb7e2"/>
<circle cx="310.4" cy="378.5" r="1.87" fill="#7cb7e2"/>
<circle cx="333.5" cy="371.5" r="1.87" fill="#7cb7e2"/>
<circle cx="357.3" cy="350" r="1.87" fill="#7cb7e2"/>
<circle cx="368.6" cy="345.4" r="1.87" fill="#7cb7e2"/>
<circle cx="380" cy="340" r="1.87" fill="#7cb7e2"/>
<circle cx="403.7" cy="322.6" r="1.87" fill="#7cb7e2"/>
<polyline points="263.6,386 286.7,381 310.4,378 333.5,370.5 357.3,351 368.6,346.3 380,337.8 403.7,319.8" fill="none" stroke="#9d92ca" stroke-width="1.5" stroke-linejoin="round"/>
<path d="M403.7 316V324M401.7 316H405.7M401.7 324H405.7" stroke="#9d92ca" stroke-width="1.1" fill="none"/>
<polygon points="263.6,383.58 265.8,387.76 261.4,387.76" fill="#9d92ca"/>
<polygon points="286.7,378.58 288.9,382.76 284.5,382.76" fill="#9d92ca"/>
<polygon points="310.4,375.58 312.6,379.76 308.2,379.76" fill="#9d92ca"/>
<polygon points="333.5,368.08 335.7,372.26 331.3,372.26" fill="#9d92ca"/>
<polygon points="357.3,348.58 359.5,352.76 355.1,352.76" fill="#9d92ca"/>
<polygon points="368.6,343.88 370.8,348.06 366.4,348.06" fill="#9d92ca"/>
<polygon points="380,335.38 382.2,339.56 377.8,339.56" fill="#9d92ca"/>
<polygon points="403.7,317.38 405.9,321.56 401.5,321.56" fill="#9d92ca"/>
<polyline points="263.6,386 286.7,385 310.4,384.5 333.5,376.5 357.3,359.6 380,347.3 403.7,331.7" fill="none" stroke="#c61c7a" stroke-width="1.5" stroke-linejoin="round"/>
<path d="M380 344V351M378 344H382M378 351H382M333.5 374V380M331.5 374H335.5M331.5 380H335.5" stroke="#c61c7a" stroke-width="1.1" fill="none"/>
<polygon points="263.6,388.42 265.8,384.24 261.4,384.24" fill="#c61c7a"/>
<polygon points="286.7,387.42 288.9,383.24 284.5,383.24" fill="#c61c7a"/>
<polygon points="310.4,386.92 312.6,382.74 308.2,382.74" fill="#c61c7a"/>
<polygon points="333.5,378.92 335.7,374.74 331.3,374.74" fill="#c61c7a"/>
<polygon points="357.3,362.02 359.5,357.84 355.1,357.84" fill="#c61c7a"/>
<polygon points="380,349.72 382.2,345.54 377.8,345.54" fill="#c61c7a"/>
<polygon points="403.7,334.12 405.9,329.94 401.5,329.94" fill="#c61c7a"/>
<polyline points="263.6,386 286.7,385 310.4,384 333.5,364.8 357.3,345.4 380,323.6 403.7,295.1" fill="none" stroke="#e9a232" stroke-width="1.5" stroke-linejoin="round"/>
<path d="M333.5 361V368.5M331.5 361H335.5M331.5 368.5H335.5M380 318V330M378 318H382M378 330H382M403.7 289.4V313.1M401.7 289.4H405.7M401.7 313.1H405.7" stroke="#e9a232" stroke-width="1.1" fill="none"/>
<polygon points="263.6,388.42 265.8,384.24 261.4,384.24" fill="#e9a232"/>
<polygon points="286.7,387.42 288.9,383.24 284.5,383.24" fill="#e9a232"/>
<polygon points="310.4,386.42 312.6,382.24 308.2,382.24" fill="#e9a232"/>
<polygon points="333.5,367.22 335.7,363.04 331.3,363.04" fill="#e9a232"/>
<polygon points="357.3,347.82 359.5,343.64 355.1,343.64" fill="#e9a232"/>
<polygon points="380,326.02 382.2,321.84 377.8,321.84" fill="#e9a232"/>
<polygon points="403.7,297.52 405.9,293.34 401.5,293.34" fill="#e9a232"/>
<polyline points="263.6,386 286.7,383 310.4,377.3 333.5,356.2 357.3,335.9 380,311.2 403.7,273.7" fill="none" stroke="#3a1b5e" stroke-width="1.5" stroke-linejoin="round"/>
<path d="M310.2 375.8V379M308.2 375.8H312.2M308.2 379H312.2M333.5 354.8V360M331.5 354.8H335.5M331.5 360H335.5M357.3 333V343.5M355.3 333H359.3M355.3 343.5H359.3M380 304.6V337.8M378 304.6H382M378 337.8H382" stroke="#3a1b5e" stroke-width="1.1" fill="none"/>
<polygon points="263.6,383.58 265.8,387.76 261.4,387.76" fill="#3a1b5e"/>
<polygon points="286.7,380.58 288.9,384.76 284.5,384.76" fill="#3a1b5e"/>
<polygon points="310.4,374.88 312.6,379.06 308.2,379.06" fill="#3a1b5e"/>
<polygon points="333.5,353.78 335.7,357.96 331.3,357.96" fill="#3a1b5e"/>
<polygon points="357.3,333.48 359.5,337.66 355.1,337.66" fill="#3a1b5e"/>
<polygon points="380,308.78 382.2,312.96 377.8,312.96" fill="#3a1b5e"/>
<polygon points="403.7,271.28 405.9,275.46 401.5,275.46" fill="#3a1b5e"/>
<polyline points="263.6,385.3 286.7,385.3 310.4,385.3 333.5,385.3 357.3,385.3 368.6,385.3 380,385.3 403.7,385.3" fill="none" stroke="#a3173a" stroke-width="2.5" stroke-linejoin="round"/>
<rect x="261.35" y="383.05" width="4.5" height="4.5" fill="#a3173a"/>
<rect x="284.45" y="383.05" width="4.5" height="4.5" fill="#a3173a"/>
<rect x="308.15" y="383.05" width="4.5" height="4.5" fill="#a3173a"/>
<rect x="331.25" y="383.05" width="4.5" height="4.5" fill="#a3173a"/>
<rect x="355.05" y="383.05" width="4.5" height="4.5" fill="#a3173a"/>
<rect x="366.35" y="383.05" width="4.5" height="4.5" fill="#a3173a"/>
<rect x="377.75" y="383.05" width="4.5" height="4.5" fill="#a3173a"/>
<rect x="401.45" y="383.05" width="4.5" height="4.5" fill="#a3173a"/>
<line x1="267.2" y1="247.5" x2="277.2" y2="247.5" stroke="#3a1b5e" stroke-width="1.5"/>
<polygon points="272.2,245.19 274.3,249.18 270.1,249.18" fill="#3a1b5e"/>
<text x="278.8" y="250.45" font-size="7.55" fill="#2a2a2a">B3 ATF7IP-JAK2</text>
<line x1="267.2" y1="258.7" x2="277.2" y2="258.7" stroke="#9d92ca" stroke-width="1.5"/>
<polygon points="272.2,256.39 274.3,260.38 270.1,260.38" fill="#9d92ca"/>
<text x="278.8" y="261.65" font-size="7.55" fill="#2a2a2a">B3 PAX5-JAK2</text>
<line x1="267.2" y1="269.9" x2="277.2" y2="269.9" stroke="#7cb7e2" stroke-width="1.5"/>
<circle cx="272.2" cy="269.9" r="1.78" fill="#7cb7e2"/>
<text x="278.8" y="272.85" font-size="7.55" fill="#2a2a2a">B3 SSBP2-JAK2</text>
<line x1="267.2" y1="281.1" x2="277.2" y2="281.1" stroke="#c61c7a" stroke-width="1.5"/>
<polygon points="272.2,283.41 274.3,279.42 270.1,279.42" fill="#c61c7a"/>
<text x="278.8" y="284.05" font-size="7.55" fill="#2a2a2a">B3 EBF1-JAK2</text>
<line x1="267.2" y1="292.3" x2="277.2" y2="292.3" stroke="#e9a232" stroke-width="1.5"/>
<polygon points="272.2,294.61 274.3,290.62 270.1,290.62" fill="#e9a232"/>
<text x="278.8" y="295.25" font-size="7.55" fill="#2a2a2a">B3 ETV6-NTRK3</text>
<line x1="267.2" y1="303.5" x2="277.2" y2="303.5" stroke="#2f5c4c" stroke-width="1.5"/>
<path d="M270.1 301.4L274.3 305.6M270.1 305.6L274.3 301.4" stroke="#2f5c4c" stroke-width="1.1"/>
<text x="278.8" y="306.45" font-size="7.55" fill="#2a2a2a">B3 MYH9-IL2RB</text>
<line x1="267.2" y1="314.7" x2="277.2" y2="314.7" stroke="#6cab3c" stroke-width="1.5"/>
<polygon points="272.2,312.6 274.3,314.7 272.2,316.8 270.1,314.7" fill="#6cab3c"/>
<text x="278.8" y="317.65" font-size="7.55" fill="#2a2a2a">B3 MYB-TYK2</text>
<line x1="267.2" y1="325.9" x2="277.2" y2="325.9" stroke="#a3173a" stroke-width="1.5"/>
<rect x="270.31" y="324.01" width="3.78" height="3.78" fill="#a3173a"/>
<text x="278.8" y="328.85" font-size="7.55" fill="#2a2a2a">B3 MIG</text>
<text x="8" y="443" font-size="12" font-weight="bold" fill="#000">C</text>
<path d="M31.8 480.8L49.8 480.8L50.3 480.8L50.8 480.6L51.3 480.0L51.8 478.4L52.3 474.7L52.8 468.3L53.3 459.8L53.8 452.1L54.3 449.0L54.8 452.1L55.3 459.8L55.8 468.3L56.3 474.7L56.8 478.4L57.3 480.0L57.8 480.6L58.3 480.8L58.8 480.8L123.3 480.8L123.6 480.8L31.8 480.8Z" fill="rgba(210,210,210,0.3)" stroke="none"/>
<path d="M31.8 480.8L49.8 480.8L50.3 480.8L50.8 480.6L51.3 480.0L51.8 478.4L52.3 474.7L52.8 468.3L53.3 459.8L53.8 452.1L54.3 449.0L54.8 452.1L55.3 459.8L55.8 468.3L56.3 474.7L56.8 478.4L57.3 480.0L57.8 480.6L58.3 480.8L58.8 480.8L123.3 480.8" fill="none" stroke="#c6c6c6" stroke-width="1.0" stroke-linejoin="round"/>
<path d="M30.5 497.5L54.0 497.5L54.5 497.5L55.0 497.5L55.5 497.4L56.0 497.4L56.5 497.4L57.0 497.4L57.5 497.4L58.0 497.4L58.5 497.4L59.0 497.3L59.5 497.3L60.0 497.3L60.5 497.2L61.0 497.2L61.5 497.2L62.0 497.1L62.5 497.1L63.0 497.0L63.5 497.0L64.0 496.9L64.5 496.9L65.0 496.8L65.5 496.8L66.0 496.7L66.5 496.7L67.0 496.7L67.5 496.6L68.0 496.6L68.5 496.6L69.0 496.5L69.5 496.5L70.0 496.5L70.5 496.4L71.0 496.4L71.5 496.4L72.0 496.3L72.5 496.2L73.0 496.1L73.5 496.0L74.0 495.8L74.5 495.5L75.0 495.2L75.5 494.8L76.0 494.3L76.5 493.7L77.0 493.0L77.5 492.1L78.0 491.1L78.5 490.0L79.0 488.7L79.5 487.2L80.0 485.7L80.5 484.0L81.0 482.2L81.5 480.3L82.0 478.4L82.5 476.5L83.0 474.6L83.5 472.8L84.0 471.2L84.5 469.7L85.0 468.4L85.5 467.4L86.0 466.7L86.5 466.3L87.0 466.2L87.5 466.2L88.0 466.4L88.5 466.9L89.0 467.7L89.5 468.9L90.0 470.7L90.5 472.9L91.0 475.5L91.5 478.5L92.0 481.7L92.5 484.8L93.0 487.8L93.5 490.4L94.0 492.5L94.5 494.2L95.0 495.5L95.5 496.3L96.0 496.8L96.5 497.2L97.0 497.3L97.5 497.4L98.0 497.5L123.5 497.5L123.6 497.5L30.5 497.5Z" fill="rgba(188,18,62,0.74)" stroke="none"/>
<path d="M30.5 497.5L54.0 497.5L54.5 497.5L55.0 497.5L55.5 497.4L56.0 497.4L56.5 497.4L57.0 497.4L57.5 497.4L58.0 497.4L58.5 497.4L59.0 497.3L59.5 497.3L60.0 497.3L60.5 497.2L61.0 497.2L61.5 497.2L62.0 497.1L62.5 497.1L63.0 497.0L63.5 497.0L64.0 496.9L64.5 496.9L65.0 496.8L65.5 496.8L66.0 496.7L66.5 496.7L67.0 496.7L67.5 496.6L68.0 496.6L68.5 496.6L69.0 496.5L69.5 496.5L70.0 496.5L70.5 496.4L71.0 496.4L71.5 496.4L72.0 496.3L72.5 496.2L73.0 496.1L73.5 496.0L74.0 495.8L74.5 495.5L75.0 495.2L75.5 494.8L76.0 494.3L76.5 493.7L77.0 493.0L77.5 492.1L78.0 491.1L78.5 490.0L79.0 488.7L79.5 487.2L80.0 485.7L80.5 484.0L81.0 482.2L81.5 480.3L82.0 478.4L82.5 476.5L83.0 474.6L83.5 472.8L84.0 471.2L84.5 469.7L85.0 468.4L85.5 467.4L86.0 466.7L86.5 466.3L87.0 466.2L87.5 466.2L88.0 466.4L88.5 466.9L89.0 467.7L89.5 468.9L90.0 470.7L90.5 472.9L91.0 475.5L91.5 478.5L92.0 481.7L92.5 484.8L93.0 487.8L93.5 490.4L94.0 492.5L94.5 494.2L95.0 495.5L95.5 496.3L96.0 496.8L96.5 497.2L97.0 497.3L97.5 497.4L98.0 497.5L123.5 497.5" fill="none" stroke="#721530" stroke-width="1.2" stroke-linejoin="round"/>
<path d="M30.5 514.3L43.0 514.3L43.5 514.3L44.0 514.3L44.5 514.3L45.0 514.3L45.5 514.3L46.0 514.2L46.5 514.2L47.0 514.2L47.5 514.2L48.0 514.2L48.5 514.2L49.0 514.2L49.5 514.2L50.0 514.2L50.5 514.2L51.0 514.1L51.5 514.1L52.0 514.1L52.5 514.1L53.0 514.1L53.5 514.0L54.0 514.0L54.5 514.0L55.0 513.9L55.5 513.9L56.0 513.9L56.5 513.8L57.0 513.8L57.5 513.7L58.0 513.7L58.5 513.6L59.0 513.5L59.5 513.4L60.0 513.3L60.5 513.3L61.0 513.1L61.5 513.0L62.0 512.9L62.5 512.8L63.0 512.6L63.5 512.5L64.0 512.3L64.5 512.1L65.0 511.9L65.5 511.7L66.0 511.4L66.5 511.1L67.0 510.9L67.5 510.5L68.0 510.2L68.5 509.8L69.0 509.4L69.5 509.0L70.0 508.6L70.5 508.1L71.0 507.5L71.5 507.0L72.0 506.4L72.5 505.7L73.0 505.0L73.5 504.3L74.0 503.5L74.5 502.6L75.0 501.7L75.5 500.8L76.0 499.8L76.5 498.7L77.0 497.6L77.5 496.5L78.0 495.3L78.5 494.0L79.0 492.8L79.5 491.4L80.0 490.1L80.5 488.7L81.0 487.4L81.5 486.1L82.0 484.9L82.5 483.9L83.0 483.8L83.5 484.1L84.0 485.1L84.5 487.1L85.0 490.1L85.5 494.0L86.0 498.5L86.5 503.0L87.0 507.0L87.5 510.1L88.0 512.1L88.5 513.3L89.0 513.9L89.5 514.2L90.0 514.3L90.5 514.3L123.5 514.3L123.6 514.3L30.5 514.3Z" fill="rgba(188,18,62,0.36)" stroke="none"/>
<path d="M30.5 514.3L43.0 514.3L43.5 514.3L44.0 514.3L44.5 514.3L45.0 514.3L45.5 514.3L46.0 514.2L46.5 514.2L47.0 514.2L47.5 514.2L48.0 514.2L48.5 514.2L49.0 514.2L49.5 514.2L50.0 514.2L50.5 514.2L51.0 514.1L51.5 514.1L52.0 514.1L52.5 514.1L53.0 514.1L53.5 514.0L54.0 514.0L54.5 514.0L55.0 513.9L55.5 513.9L56.0 513.9L56.5 513.8L57.0 513.8L57.5 513.7L58.0 513.7L58.5 513.6L59.0 513.5L59.5 513.4L60.0 513.3L60.5 513.3L61.0 513.1L61.5 513.0L62.0 512.9L62.5 512.8L63.0 512.6L63.5 512.5L64.0 512.3L64.5 512.1L65.0 511.9L65.5 511.7L66.0 511.4L66.5 511.1L67.0 510.9L67.5 510.5L68.0 510.2L68.5 509.8L69.0 509.4L69.5 509.0L70.0 508.6L70.5 508.1L71.0 507.5L71.5 507.0L72.0 506.4L72.5 505.7L73.0 505.0L73.5 504.3L74.0 503.5L74.5 502.6L75.0 501.7L75.5 500.8L76.0 499.8L76.5 498.7L77.0 497.6L77.5 496.5L78.0 495.3L78.5 494.0L79.0 492.8L79.5 491.4L80.0 490.1L80.5 488.7L81.0 487.4L81.5 486.1L82.0 484.9L82.5 483.9L83.0 483.8L83.5 484.1L84.0 485.1L84.5 487.1L85.0 490.1L85.5 494.0L86.0 498.5L86.5 503.0L87.0 507.0L87.5 510.1L88.0 512.1L88.5 513.3L89.0 513.9L89.5 514.2L90.0 514.3L90.5 514.3L123.5 514.3" fill="none" stroke="#721530" stroke-width="1.2" stroke-linejoin="round"/>
<path d="M30.5 531.0L55.5 531.0L56.0 531.0L56.5 531.0L57.0 531.0L57.5 530.9L58.0 530.9L58.5 530.9L59.0 530.9L59.5 530.9L60.0 530.9L60.5 530.8L61.0 530.8L61.5 530.8L62.0 530.7L62.5 530.7L63.0 530.6L63.5 530.6L64.0 530.5L64.5 530.4L65.0 530.3L65.5 530.2L66.0 530.0L66.5 529.9L67.0 529.7L67.5 529.5L68.0 529.3L68.5 529.0L69.0 528.7L69.5 528.4L70.0 528.0L70.5 527.6L71.0 527.2L71.5 526.7L72.0 526.1L72.5 525.5L73.0 524.8L73.5 524.0L74.0 523.2L74.5 522.3L75.0 521.4L75.5 520.4L76.0 519.2L76.5 518.1L77.0 516.8L77.5 515.5L78.0 514.1L78.5 512.7L79.0 511.3L79.5 509.8L80.0 508.3L80.5 506.8L81.0 505.4L81.5 504.0L82.0 502.7L82.5 501.6L83.0 500.8L83.5 500.4L84.0 500.6L84.5 501.2L85.0 502.3L85.5 503.7L86.0 505.5L86.5 507.6L87.0 510.0L87.5 512.4L88.0 514.9L88.5 517.4L89.0 519.7L89.5 521.8L90.0 523.6L90.5 525.3L91.0 526.6L91.5 527.7L92.0 528.6L92.5 529.3L93.0 529.8L93.5 530.2L94.0 530.5L94.5 530.7L95.0 530.8L95.5 530.9L96.0 530.9L96.5 531.0L97.0 531.0L123.5 531.0L123.6 531L30.5 531Z" fill="rgba(188,18,62,0.28)" stroke="none"/>
<path d="M30.5 531.0L55.5 531.0L56.0 531.0L56.5 531.0L57.0 531.0L57.5 530.9L58.0 530.9L58.5 530.9L59.0 530.9L59.5 530.9L60.0 530.9L60.5 530.8L61.0 530.8L61.5 530.8L62.0 530.7L62.5 530.7L63.0 530.6L63.5 530.6L64.0 530.5L64.5 530.4L65.0 530.3L65.5 530.2L66.0 530.0L66.5 529.9L67.0 529.7L67.5 529.5L68.0 529.3L68.5 529.0L69.0 528.7L69.5 528.4L70.0 528.0L70.5 527.6L71.0 527.2L71.5 526.7L72.0 526.1L72.5 525.5L73.0 524.8L73.5 524.0L74.0 523.2L74.5 522.3L75.0 521.4L75.5 520.4L76.0 519.2L76.5 518.1L77.0 516.8L77.5 515.5L78.0 514.1L78.5 512.7L79.0 511.3L79.5 509.8L80.0 508.3L80.5 506.8L81.0 505.4L81.5 504.0L82.0 502.7L82.5 501.6L83.0 500.8L83.5 500.4L84.0 500.6L84.5 501.2L85.0 502.3L85.5 503.7L86.0 505.5L86.5 507.6L87.0 510.0L87.5 512.4L88.0 514.9L88.5 517.4L89.0 519.7L89.5 521.8L90.0 523.6L90.5 525.3L91.0 526.6L91.5 527.7L92.0 528.6L92.5 529.3L93.0 529.8L93.5 530.2L94.0 530.5L94.5 530.7L95.0 530.8L95.5 530.9L96.0 530.9L96.5 531.0L97.0 531.0L123.5 531.0" fill="none" stroke="#721530" stroke-width="1.2" stroke-linejoin="round"/>
<path d="M30.5 547.2L66.0 547.2L66.5 547.2L67.0 547.2L67.5 547.1L68.0 547.1L68.5 547.1L69.0 547.1L69.5 547.0L70.0 547.0L70.5 546.9L71.0 546.8L71.5 546.7L72.0 546.6L72.5 546.4L73.0 546.2L73.5 546.0L74.0 545.7L74.5 545.4L75.0 545.0L75.5 544.5L76.0 544.0L76.5 543.3L77.0 542.6L77.5 541.7L78.0 540.8L78.5 539.7L79.0 538.5L79.5 537.2L80.0 535.8L80.5 534.2L81.0 532.5L81.5 530.8L82.0 529.0L82.5 527.2L83.0 525.3L83.5 523.5L84.0 521.8L84.5 520.2L85.0 518.8L85.5 517.7L86.0 516.9L86.5 516.6L87.0 516.7L87.5 517.0L88.0 517.7L88.5 518.9L89.0 520.6L89.5 522.8L90.0 525.4L90.5 528.3L91.0 531.4L91.5 534.4L92.0 537.2L92.5 539.8L93.0 541.9L93.5 543.6L94.0 544.8L94.5 545.7L95.0 546.3L95.5 546.7L96.0 547.0L96.5 547.1L97.0 547.1L97.5 547.2L123.5 547.2L123.6 547.2L30.5 547.2Z" fill="rgba(48,72,145,0.76)" stroke="none"/>
<path d="M30.5 547.2L66.0 547.2L66.5 547.2L67.0 547.2L67.5 547.1L68.0 547.1L68.5 547.1L69.0 547.1L69.5 547.0L70.0 547.0L70.5 546.9L71.0 546.8L71.5 546.7L72.0 546.6L72.5 546.4L73.0 546.2L73.5 546.0L74.0 545.7L74.5 545.4L75.0 545.0L75.5 544.5L76.0 544.0L76.5 543.3L77.0 542.6L77.5 541.7L78.0 540.8L78.5 539.7L79.0 538.5L79.5 537.2L80.0 535.8L80.5 534.2L81.0 532.5L81.5 530.8L82.0 529.0L82.5 527.2L83.0 525.3L83.5 523.5L84.0 521.8L84.5 520.2L85.0 518.8L85.5 517.7L86.0 516.9L86.5 516.6L87.0 516.7L87.5 517.0L88.0 517.7L88.5 518.9L89.0 520.6L89.5 522.8L90.0 525.4L90.5 528.3L91.0 531.4L91.5 534.4L92.0 537.2L92.5 539.8L93.0 541.9L93.5 543.6L94.0 544.8L94.5 545.7L95.0 546.3L95.5 546.7L96.0 547.0L96.5 547.1L97.0 547.1L97.5 547.2L123.5 547.2" fill="none" stroke="#232e62" stroke-width="1.2" stroke-linejoin="round"/>
<path d="M30.5 564.0L50.5 564.0L51.0 564.0L51.5 564.0L52.0 564.0L52.5 563.9L53.0 563.9L53.5 563.9L54.0 563.9L54.5 563.9L55.0 563.9L55.5 563.9L56.0 563.8L56.5 563.8L57.0 563.8L57.5 563.7L58.0 563.7L58.5 563.7L59.0 563.6L59.5 563.5L60.0 563.5L60.5 563.4L61.0 563.3L61.5 563.2L62.0 563.1L62.5 563.0L63.0 562.8L63.5 562.6L64.0 562.4L64.5 562.2L65.0 562.0L65.5 561.7L66.0 561.4L66.5 561.1L67.0 560.7L67.5 560.3L68.0 559.8L68.5 559.3L69.0 558.7L69.5 558.1L70.0 557.4L70.5 556.7L71.0 555.9L71.5 555.0L72.0 554.1L72.5 553.1L73.0 552.0L73.5 550.9L74.0 549.6L74.5 548.3L75.0 547.0L75.5 545.6L76.0 544.1L76.5 542.7L77.0 541.2L77.5 539.7L78.0 538.2L78.5 536.9L79.0 535.7L79.5 534.7L80.0 534.4L80.5 535.0L81.0 536.1L81.5 537.8L82.0 539.9L82.5 542.4L83.0 545.0L83.5 547.6L84.0 550.2L84.5 552.6L85.0 554.8L85.5 556.7L86.0 558.4L86.5 559.7L87.0 560.9L87.5 561.7L88.0 562.4L88.5 562.9L89.0 563.2L89.5 563.5L90.0 563.7L90.5 563.8L91.0 563.9L91.5 563.9L92.0 564.0L92.5 564.0L123.5 564.0L123.6 564L30.5 564Z" fill="rgba(48,72,145,0.22)" stroke="none"/>
<path d="M30.5 564.0L50.5 564.0L51.0 564.0L51.5 564.0L52.0 564.0L52.5 563.9L53.0 563.9L53.5 563.9L54.0 563.9L54.5 563.9L55.0 563.9L55.5 563.9L56.0 563.8L56.5 563.8L57.0 563.8L57.5 563.7L58.0 563.7L58.5 563.7L59.0 563.6L59.5 563.5L60.0 563.5L60.5 563.4L61.0 563.3L61.5 563.2L62.0 563.1L62.5 563.0L63.0 562.8L63.5 562.6L64.0 562.4L64.5 562.2L65.0 562.0L65.5 561.7L66.0 561.4L66.5 561.1L67.0 560.7L67.5 560.3L68.0 559.8L68.5 559.3L69.0 558.7L69.5 558.1L70.0 557.4L70.5 556.7L71.0 555.9L71.5 555.0L72.0 554.1L72.5 553.1L73.0 552.0L73.5 550.9L74.0 549.6L74.5 548.3L75.0 547.0L75.5 545.6L76.0 544.1L76.5 542.7L77.0 541.2L77.5 539.7L78.0 538.2L78.5 536.9L79.0 535.7L79.5 534.7L80.0 534.4L80.5 535.0L81.0 536.1L81.5 537.8L82.0 539.9L82.5 542.4L83.0 545.0L83.5 547.6L84.0 550.2L84.5 552.6L85.0 554.8L85.5 556.7L86.0 558.4L86.5 559.7L87.0 560.9L87.5 561.7L88.0 562.4L88.5 562.9L89.0 563.2L89.5 563.5L90.0 563.7L90.5 563.8L91.0 563.9L91.5 563.9L92.0 564.0L92.5 564.0L123.5 564.0" fill="none" stroke="#232e62" stroke-width="1.2" stroke-linejoin="round"/>
<path d="M30.5 580.2L54.5 580.2L55.0 580.2L55.5 580.1L56.0 580.1L56.5 580.1L57.0 580.1L57.5 580.0L58.0 579.9L58.5 579.9L59.0 579.8L59.5 579.7L60.0 579.5L60.5 579.3L61.0 579.1L61.5 578.8L62.0 578.5L62.5 578.1L63.0 577.7L63.5 577.2L64.0 576.6L64.5 576.0L65.0 575.3L65.5 574.5L66.0 573.6L66.5 572.6L67.0 571.6L67.5 570.5L68.0 569.3L68.5 568.1L69.0 566.8L69.5 565.5L70.0 564.2L70.5 562.9L71.0 561.5L71.5 560.2L72.0 559.0L72.5 557.7L73.0 556.6L73.5 555.5L74.0 554.5L74.5 553.6L75.0 552.9L75.5 552.2L76.0 551.6L76.5 551.2L77.0 550.8L77.5 550.6L78.0 550.4L78.5 550.3L79.0 550.3L79.5 550.3L80.0 550.4L80.5 550.5L81.0 550.7L81.5 551.0L82.0 551.4L82.5 551.9L83.0 552.5L83.5 553.1L84.0 553.9L84.5 554.8L85.0 555.7L85.5 556.7L86.0 557.8L86.5 558.9L87.0 560.1L87.5 561.3L88.0 562.6L88.5 563.8L89.0 565.0L89.5 566.3L90.0 567.5L90.5 568.6L91.0 569.8L91.5 570.8L92.0 571.8L92.5 572.8L93.0 573.7L93.5 574.5L94.0 575.2L94.5 575.9L95.0 576.5L95.5 577.1L96.0 577.6L96.5 578.0L97.0 578.4L97.5 578.7L98.0 578.9L98.5 579.2L99.0 579.4L99.5 579.5L100.0 579.7L100.5 579.8L101.0 579.9L101.5 579.9L102.0 580.0L102.5 580.0L103.0 580.1L103.5 580.1L104.0 580.1L104.5 580.2L105.0 580.2L105.5 580.2L123.5 580.2L123.6 580.2L30.5 580.2Z" fill="rgba(108,186,78,0.6)" stroke="none"/>
<path d="M30.5 580.2L54.5 580.2L55.0 580.2L55.5 580.1L56.0 580.1L56.5 580.1L57.0 580.1L57.5 580.0L58.0 579.9L58.5 579.9L59.0 579.8L59.5 579.7L60.0 579.5L60.5 579.3L61.0 579.1L61.5 578.8L62.0 578.5L62.5 578.1L63.0 577.7L63.5 577.2L64.0 576.6L64.5 576.0L65.0 575.3L65.5 574.5L66.0 573.6L66.5 572.6L67.0 571.6L67.5 570.5L68.0 569.3L68.5 568.1L69.0 566.8L69.5 565.5L70.0 564.2L70.5 562.9L71.0 561.5L71.5 560.2L72.0 559.0L72.5 557.7L73.0 556.6L73.5 555.5L74.0 554.5L74.5 553.6L75.0 552.9L75.5 552.2L76.0 551.6L76.5 551.2L77.0 550.8L77.5 550.6L78.0 550.4L78.5 550.3L79.0 550.3L79.5 550.3L80.0 550.4L80.5 550.5L81.0 550.7L81.5 551.0L82.0 551.4L82.5 551.9L83.0 552.5L83.5 553.1L84.0 553.9L84.5 554.8L85.0 555.7L85.5 556.7L86.0 557.8L86.5 558.9L87.0 560.1L87.5 561.3L88.0 562.6L88.5 563.8L89.0 565.0L89.5 566.3L90.0 567.5L90.5 568.6L91.0 569.8L91.5 570.8L92.0 571.8L92.5 572.8L93.0 573.7L93.5 574.5L94.0 575.2L94.5 575.9L95.0 576.5L95.5 577.1L96.0 577.6L96.5 578.0L97.0 578.4L97.5 578.7L98.0 578.9L98.5 579.2L99.0 579.4L99.5 579.5L100.0 579.7L100.5 579.8L101.0 579.9L101.5 579.9L102.0 580.0L102.5 580.0L103.0 580.1L103.5 580.1L104.0 580.1L104.5 580.2L105.0 580.2L105.5 580.2L123.5 580.2" fill="none" stroke="#5a9e40" stroke-width="1.2" stroke-linejoin="round"/>
<path d="M30.5 596.9L31.0 596.9L31.5 596.9L32.0 596.9L32.5 596.8L33.0 596.8L33.5 596.8L34.0 596.8L34.5 596.8L35.0 596.8L35.5 596.8L36.0 596.8L36.5 596.8L37.0 596.8L37.5 596.8L38.0 596.8L38.5 596.8L39.0 596.7L39.5 596.7L40.0 596.7L40.5 596.7L41.0 596.7L41.5 596.7L42.0 596.6L42.5 596.6L43.0 596.6L43.5 596.6L44.0 596.6L44.5 596.5L45.0 596.5L45.5 596.5L46.0 596.4L46.5 596.4L47.0 596.4L47.5 596.3L48.0 596.3L48.5 596.3L49.0 596.2L49.5 596.2L50.0 596.1L50.5 596.1L51.0 596.0L51.5 596.0L52.0 595.9L52.5 595.8L53.0 595.8L53.5 595.7L54.0 595.6L54.5 595.5L55.0 595.5L55.5 595.4L56.0 595.3L56.5 595.2L57.0 595.1L57.5 595.0L58.0 594.9L58.5 594.8L59.0 594.7L59.5 594.5L60.0 594.4L60.5 594.3L61.0 594.2L61.5 594.0L62.0 593.9L62.5 593.7L63.0 593.6L63.5 593.4L64.0 593.3L64.5 593.1L65.0 593.0L65.5 592.8L66.0 592.6L66.5 592.4L67.0 592.3L67.5 592.1L68.0 591.9L68.5 591.7L69.0 591.5L69.5 591.4L70.0 591.2L70.5 591.0L71.0 590.8L71.5 590.6L72.0 590.4L72.5 590.3L73.0 590.1L73.5 589.9L74.0 589.8L74.5 589.6L75.0 589.4L75.5 589.3L76.0 589.2L76.5 589.0L77.0 588.9L77.5 588.8L78.0 588.6L78.5 588.5L79.0 588.3L79.5 588.2L80.0 588.0L80.5 587.9L81.0 587.7L81.5 587.4L82.0 586.9L82.5 586.3L83.0 585.4L83.5 584.2L84.0 582.7L84.5 581.0L85.0 579.1L85.5 576.9L86.0 574.7L86.5 572.5L87.0 570.5L87.5 568.7L88.0 567.4L88.5 566.6L89.0 566.3L89.5 566.6L90.0 567.5L90.5 568.8L91.0 570.6L91.5 572.8L92.0 575.1L92.5 577.7L93.0 580.2L93.5 582.7L94.0 585.0L94.5 587.2L95.0 589.1L95.5 590.7L96.0 592.1L96.5 593.3L97.0 594.2L97.5 594.9L98.0 595.5L98.5 595.9L99.0 596.2L99.5 596.4L100.0 596.6L100.5 596.7L101.0 596.8L101.5 596.8L102.0 596.9L102.5 596.9L123.5 596.9L123.6 596.9L30.5 596.9Z" fill="rgba(98,58,150,0.66)" stroke="none"/>
<path d="M30.5 596.9L31.0 596.9L31.5 596.9L32.0 596.9L32.5 596.8L33.0 596.8L33.5 596.8L34.0 596.8L34.5 596.8L35.0 596.8L35.5 596.8L36.0 596.8L36.5 596.8L37.0 596.8L37.5 596.8L38.0 596.8L38.5 596.8L39.0 596.7L39.5 596.7L40.0 596.7L40.5 596.7L41.0 596.7L41.5 596.7L42.0 596.6L42.5 596.6L43.0 596.6L43.5 596.6L44.0 596.6L44.5 596.5L45.0 596.5L45.5 596.5L46.0 596.4L46.5 596.4L47.0 596.4L47.5 596.3L48.0 596.3L48.5 596.3L49.0 596.2L49.5 596.2L50.0 596.1L50.5 596.1L51.0 596.0L51.5 596.0L52.0 595.9L52.5 595.8L53.0 595.8L53.5 595.7L54.0 595.6L54.5 595.5L55.0 595.5L55.5 595.4L56.0 595.3L56.5 595.2L57.0 595.1L57.5 595.0L58.0 594.9L58.5 594.8L59.0 594.7L59.5 594.5L60.0 594.4L60.5 594.3L61.0 594.2L61.5 594.0L62.0 593.9L62.5 593.7L63.0 593.6L63.5 593.4L64.0 593.3L64.5 593.1L65.0 593.0L65.5 592.8L66.0 592.6L66.5 592.4L67.0 592.3L67.5 592.1L68.0 591.9L68.5 591.7L69.0 591.5L69.5 591.4L70.0 591.2L70.5 591.0L71.0 590.8L71.5 590.6L72.0 590.4L72.5 590.3L73.0 590.1L73.5 589.9L74.0 589.8L74.5 589.6L75.0 589.4L75.5 589.3L76.0 589.2L76.5 589.0L77.0 588.9L77.5 588.8L78.0 588.6L78.5 588.5L79.0 588.3L79.5 588.2L80.0 588.0L80.5 587.9L81.0 587.7L81.5 587.4L82.0 586.9L82.5 586.3L83.0 585.4L83.5 584.2L84.0 582.7L84.5 581.0L85.0 579.1L85.5 576.9L86.0 574.7L86.5 572.5L87.0 570.5L87.5 568.7L88.0 567.4L88.5 566.6L89.0 566.3L89.5 566.6L90.0 567.5L90.5 568.8L91.0 570.6L91.5 572.8L92.0 575.1L92.5 577.7L93.0 580.2L93.5 582.7L94.0 585.0L94.5 587.2L95.0 589.1L95.5 590.7L96.0 592.1L96.5 593.3L97.0 594.2L97.5 594.9L98.0 595.5L98.5 595.9L99.0 596.2L99.5 596.4L100.0 596.6L100.5 596.7L101.0 596.8L101.5 596.8L102.0 596.9L102.5 596.9L123.5 596.9" fill="none" stroke="#261840" stroke-width="1.2" stroke-linejoin="round"/>
<path d="M30.5 613.5L54.0 613.5L54.5 613.5L55.0 613.5L55.5 613.5L56.0 613.4L56.5 613.4L57.0 613.4L57.5 613.4L58.0 613.4L58.5 613.4L59.0 613.4L59.5 613.3L60.0 613.3L60.5 613.3L61.0 613.3L61.5 613.2L62.0 613.2L62.5 613.1L63.0 613.1L63.5 613.0L64.0 612.9L64.5 612.8L65.0 612.8L65.5 612.6L66.0 612.5L66.5 612.4L67.0 612.2L67.5 612.1L68.0 611.9L68.5 611.7L69.0 611.4L69.5 611.1L70.0 610.8L70.5 610.5L71.0 610.2L71.5 609.8L72.0 609.3L72.5 608.8L73.0 608.3L73.5 607.7L74.0 607.1L74.5 606.4L75.0 605.7L75.5 604.9L76.0 604.1L76.5 603.2L77.0 602.2L77.5 601.2L78.0 600.2L78.5 599.1L79.0 597.9L79.5 596.7L80.0 595.4L80.5 594.2L81.0 592.9L81.5 591.5L82.0 590.2L82.5 588.9L83.0 587.7L83.5 586.5L84.0 585.4L84.5 584.5L85.0 583.7L85.5 583.3L86.0 583.4L86.5 584.0L87.0 584.9L87.5 586.4L88.0 588.3L88.5 590.5L89.0 593.0L89.5 595.7L90.0 598.4L90.5 601.0L91.0 603.5L91.5 605.6L92.0 607.5L92.5 609.1L93.0 610.3L93.5 611.3L94.0 612.0L94.5 612.5L95.0 612.9L95.5 613.1L96.0 613.3L96.5 613.4L97.0 613.4L97.5 613.5L98.0 613.5L123.5 613.5L123.6 613.5L30.5 613.5Z" fill="rgba(98,58,150,0.3)" stroke="none"/>
<path d="M30.5 613.5L54.0 613.5L54.5 613.5L55.0 613.5L55.5 613.5L56.0 613.4L56.5 613.4L57.0 613.4L57.5 613.4L58.0 613.4L58.5 613.4L59.0 613.4L59.5 613.3L60.0 613.3L60.5 613.3L61.0 613.3L61.5 613.2L62.0 613.2L62.5 613.1L63.0 613.1L63.5 613.0L64.0 612.9L64.5 612.8L65.0 612.8L65.5 612.6L66.0 612.5L66.5 612.4L67.0 612.2L67.5 612.1L68.0 611.9L68.5 611.7L69.0 611.4L69.5 611.1L70.0 610.8L70.5 610.5L71.0 610.2L71.5 609.8L72.0 609.3L72.5 608.8L73.0 608.3L73.5 607.7L74.0 607.1L74.5 606.4L75.0 605.7L75.5 604.9L76.0 604.1L76.5 603.2L77.0 602.2L77.5 601.2L78.0 600.2L78.5 599.1L79.0 597.9L79.5 596.7L80.0 595.4L80.5 594.2L81.0 592.9L81.5 591.5L82.0 590.2L82.5 588.9L83.0 587.7L83.5 586.5L84.0 585.4L84.5 584.5L85.0 583.7L85.5 583.3L86.0 583.4L86.5 584.0L87.0 584.9L87.5 586.4L88.0 588.3L88.5 590.5L89.0 593.0L89.5 595.7L90.0 598.4L90.5 601.0L91.0 603.5L91.5 605.6L92.0 607.5L92.5 609.1L93.0 610.3L93.5 611.3L94.0 612.0L94.5 612.5L95.0 612.9L95.5 613.1L96.0 613.3L96.5 613.4L97.0 613.4L97.5 613.5L98.0 613.5L123.5 613.5" fill="none" stroke="#261840" stroke-width="1.2" stroke-linejoin="round"/>
<path d="M30.5 629.9L48.5 629.9L49.0 629.8L49.5 629.4L50.0 628.1L50.5 625.5L51.0 622.7L51.5 622.2L52.0 624.3L52.5 626.7L53.0 627.9L53.5 628.0L54.0 627.7L54.5 627.5L55.0 627.2L55.5 626.6L56.0 625.5L56.5 623.8L57.0 622.4L57.5 621.5L58.0 621.0L58.5 620.7L59.0 620.3L59.5 619.9L60.0 619.4L60.5 618.9L61.0 618.5L61.5 618.0L62.0 617.4L62.5 616.9L63.0 616.4L63.5 615.8L64.0 615.2L64.5 614.7L65.0 614.1L65.5 613.5L66.0 612.9L66.5 612.2L67.0 611.6L67.5 611.0L68.0 610.3L68.5 609.7L69.0 609.0L69.5 608.4L70.0 607.7L70.5 607.1L71.0 606.5L71.5 605.8L72.0 605.2L72.5 604.6L73.0 604.0L73.5 603.4L74.0 602.8L74.5 602.3L75.0 601.8L75.5 601.3L76.0 600.9L76.5 600.5L77.0 600.2L77.5 600.0L78.0 600.1L78.5 600.9L79.0 602.0L79.5 603.3L80.0 604.9L80.5 606.7L81.0 608.5L81.5 610.4L82.0 612.2L82.5 614.0L83.0 615.8L83.5 617.4L84.0 619.0L84.5 620.4L85.0 621.7L85.5 622.9L86.0 623.9L86.5 624.9L87.0 625.7L87.5 626.4L88.0 627.0L88.5 627.5L89.0 627.9L89.5 628.3L90.0 628.6L90.5 628.9L91.0 629.1L91.5 629.2L92.0 629.4L92.5 629.5L93.0 629.6L93.5 629.7L94.0 629.7L94.5 629.8L95.0 629.8L95.5 629.8L96.0 629.8L96.5 629.9L97.0 629.9L97.5 629.9L123.5 629.9L123.6 629.9L30.5 629.9Z" fill="rgba(90,160,222,0.5)" stroke="none"/>
<path d="M30.5 629.9L48.5 629.9L49.0 629.8L49.5 629.4L50.0 628.1L50.5 625.5L51.0 622.7L51.5 622.2L52.0 624.3L52.5 626.7L53.0 627.9L53.5 628.0L54.0 627.7L54.5 627.5L55.0 627.2L55.5 626.6L56.0 625.5L56.5 623.8L57.0 622.4L57.5 621.5L58.0 621.0L58.5 620.7L59.0 620.3L59.5 619.9L60.0 619.4L60.5 618.9L61.0 618.5L61.5 618.0L62.0 617.4L62.5 616.9L63.0 616.4L63.5 615.8L64.0 615.2L64.5 614.7L65.0 614.1L65.5 613.5L66.0 612.9L66.5 612.2L67.0 611.6L67.5 611.0L68.0 610.3L68.5 609.7L69.0 609.0L69.5 608.4L70.0 607.7L70.5 607.1L71.0 606.5L71.5 605.8L72.0 605.2L72.5 604.6L73.0 604.0L73.5 603.4L74.0 602.8L74.5 602.3L75.0 601.8L75.5 601.3L76.0 600.9L76.5 600.5L77.0 600.2L77.5 600.0L78.0 600.1L78.5 600.9L79.0 602.0L79.5 603.3L80.0 604.9L80.5 606.7L81.0 608.5L81.5 610.4L82.0 612.2L82.5 614.0L83.0 615.8L83.5 617.4L84.0 619.0L84.5 620.4L85.0 621.7L85.5 622.9L86.0 623.9L86.5 624.9L87.0 625.7L87.5 626.4L88.0 627.0L88.5 627.5L89.0 627.9L89.5 628.3L90.0 628.6L90.5 628.9L91.0 629.1L91.5 629.2L92.0 629.4L92.5 629.5L93.0 629.6L93.5 629.7L94.0 629.7L94.5 629.8L95.0 629.8L95.5 629.8L96.0 629.8L96.5 629.9L97.0 629.9L97.5 629.9L123.5 629.9" fill="none" stroke="#6096cc" stroke-width="1.2" stroke-linejoin="round"/>
<path d="M30.5 646.4L46.5 646.4L47.0 646.4L47.5 646.3L48.0 646.2L48.5 646.0L49.0 645.7L49.5 645.3L50.0 644.7L50.5 644.1L51.0 643.6L51.5 643.1L52.0 642.7L52.5 642.3L53.0 641.8L53.5 641.1L54.0 640.0L54.5 638.5L55.0 636.7L55.5 634.5L56.0 632.0L56.5 629.3L57.0 626.6L57.5 623.9L58.0 621.4L58.5 619.2L59.0 617.4L59.5 616.2L60.0 615.6L60.5 615.8L61.0 616.7L61.5 618.2L62.0 619.9L62.5 622.0L63.0 624.1L63.5 626.4L64.0 628.6L64.5 630.7L65.0 632.7L65.5 634.6L66.0 636.4L66.5 637.9L67.0 639.3L67.5 640.6L68.0 641.6L68.5 642.5L69.0 643.3L69.5 643.9L70.0 644.4L70.5 644.8L71.0 645.2L71.5 645.5L72.0 645.7L72.5 645.9L73.0 646.0L73.5 646.1L74.0 646.2L74.5 646.2L75.0 646.3L75.5 646.3L76.0 646.3L76.5 646.4L77.0 646.4L77.5 646.4L123.5 646.4L123.6 646.4L30.5 646.4Z" fill="rgba(240,165,50,0.56)" stroke="none"/>
<path d="M30.5 646.4L46.5 646.4L47.0 646.4L47.5 646.3L48.0 646.2L48.5 646.0L49.0 645.7L49.5 645.3L50.0 644.7L50.5 644.1L51.0 643.6L51.5 643.1L52.0 642.7L52.5 642.3L53.0 641.8L53.5 641.1L54.0 640.0L54.5 638.5L55.0 636.7L55.5 634.5L56.0 632.0L56.5 629.3L57.0 626.6L57.5 623.9L58.0 621.4L58.5 619.2L59.0 617.4L59.5 616.2L60.0 615.6L60.5 615.8L61.0 616.7L61.5 618.2L62.0 619.9L62.5 622.0L63.0 624.1L63.5 626.4L64.0 628.6L64.5 630.7L65.0 632.7L65.5 634.6L66.0 636.4L66.5 637.9L67.0 639.3L67.5 640.6L68.0 641.6L68.5 642.5L69.0 643.3L69.5 643.9L70.0 644.4L70.5 644.8L71.0 645.2L71.5 645.5L72.0 645.7L72.5 645.9L73.0 646.0L73.5 646.1L74.0 646.2L74.5 646.2L75.0 646.3L75.5 646.3L76.0 646.3L76.5 646.4L77.0 646.4L77.5 646.4L123.5 646.4" fill="none" stroke="#dc9a3a" stroke-width="1.2" stroke-linejoin="round"/>
<rect x="29.9" y="445.8" width="94.3" height="202.4" fill="none" stroke="#000" stroke-width="1.55"/>
<path d="M129.4 480.8L144.4 480.8L144.9 480.7L145.4 480.5L145.9 479.9L146.4 478.4L146.9 475.1L147.4 469.6L147.9 462.3L148.4 455.1L148.9 450.8L149.4 451.3L149.9 456.4L150.4 463.9L150.9 470.9L151.4 476.0L151.9 478.8L152.4 480.1L152.9 480.6L153.4 480.8L153.9 480.8L221.4 480.8L221.6 480.8L129.4 480.8Z" fill="rgba(210,210,210,0.3)" stroke="none"/>
<path d="M129.4 480.8L144.4 480.8L144.9 480.7L145.4 480.5L145.9 479.9L146.4 478.4L146.9 475.1L147.4 469.6L147.9 462.3L148.4 455.1L148.9 450.8L149.4 451.3L149.9 456.4L150.4 463.9L150.9 470.9L151.4 476.0L151.9 478.8L152.4 480.1L152.9 480.6L153.4 480.8L153.9 480.8L221.4 480.8" fill="none" stroke="#c6c6c6" stroke-width="1.0" stroke-linejoin="round"/>
<path d="M128.1 497.5L145.6 497.5L146.1 497.5L146.6 497.4L147.1 497.4L147.6 497.4L148.1 497.3L148.6 497.2L149.1 497.0L149.6 496.9L150.1 496.6L150.6 496.3L151.1 495.8L151.6 495.3L152.1 494.6L152.6 493.7L153.1 492.7L153.6 491.5L154.1 490.1L154.6 488.4L155.1 486.6L155.6 484.6L156.1 482.5L156.6 480.3L157.1 478.0L157.6 475.8L158.1 473.7L158.6 471.7L159.1 470.0L159.6 468.6L160.1 467.6L160.6 467.0L161.1 466.9L161.6 467.2L162.1 468.0L162.6 469.1L163.1 470.7L163.6 472.5L164.1 474.5L164.6 476.7L165.1 478.9L165.6 481.2L166.1 483.4L166.6 485.5L167.1 487.4L167.6 489.1L168.1 490.7L168.6 492.0L169.1 493.2L169.6 494.1L170.1 494.9L170.6 495.5L171.1 496.0L171.6 496.4L172.1 496.7L172.6 496.9L173.1 497.1L173.6 497.2L174.1 497.3L174.6 497.4L175.1 497.4L175.6 497.4L176.1 497.5L176.6 497.5L221.6 497.5L221.6 497.5L128.1 497.5Z" fill="rgba(188,18,62,0.74)" stroke="none"/>
<path d="M128.1 497.5L145.6 497.5L146.1 497.5L146.6 497.4L147.1 497.4L147.6 497.4L148.1 497.3L148.6 497.2L149.1 497.0L149.6 496.9L150.1 496.6L150.6 496.3L151.1 495.8L151.6 495.3L152.1 494.6L152.6 493.7L153.1 492.7L153.6 491.5L154.1 490.1L154.6 488.4L155.1 486.6L155.6 484.6L156.1 482.5L156.6 480.3L157.1 478.0L157.6 475.8L158.1 473.7L158.6 471.7L159.1 470.0L159.6 468.6L160.1 467.6L160.6 467.0L161.1 466.9L161.6 467.2L162.1 468.0L162.6 469.1L163.1 470.7L163.6 472.5L164.1 474.5L164.6 476.7L165.1 478.9L165.6 481.2L166.1 483.4L166.6 485.5L167.1 487.4L167.6 489.1L168.1 490.7L168.6 492.0L169.1 493.2L169.6 494.1L170.1 494.9L170.6 495.5L171.1 496.0L171.6 496.4L172.1 496.7L172.6 496.9L173.1 497.1L173.6 497.2L174.1 497.3L174.6 497.4L175.1 497.4L175.6 497.4L176.1 497.5L176.6 497.5L221.6 497.5" fill="none" stroke="#721530" stroke-width="1.2" stroke-linejoin="round"/>
<path d="M128.1 514.3L148.6 514.3L149.1 514.3L149.6 514.2L150.1 514.2L150.6 514.1L151.1 513.9L151.6 513.7L152.1 513.3L152.6 512.8L153.1 512.1L153.6 511.2L154.1 510.0L154.6 508.5L155.1 506.7L155.6 504.6L156.1 502.2L156.6 499.5L157.1 496.8L157.6 494.0L158.1 491.4L158.6 489.0L159.1 486.9L159.6 485.4L160.1 484.3L160.6 483.7L161.1 483.6L161.6 483.9L162.1 484.6L162.6 485.9L163.1 487.7L163.6 489.9L164.1 492.4L164.6 495.1L165.1 497.9L165.6 500.6L166.1 503.1L166.6 505.5L167.1 507.5L167.6 509.2L168.1 510.5L168.6 511.6L169.1 512.4L169.6 513.0L170.1 513.5L170.6 513.8L171.1 514.0L171.6 514.1L172.1 514.2L172.6 514.2L173.1 514.3L173.6 514.3L221.6 514.3L221.6 514.3L128.1 514.3Z" fill="rgba(188,18,62,0.36)" stroke="none"/>
<path d="M128.1 514.3L148.6 514.3L149.1 514.3L149.6 514.2L150.1 514.2L150.6 514.1L151.1 513.9L151.6 513.7L152.1 513.3L152.6 512.8L153.1 512.1L153.6 511.2L154.1 510.0L154.6 508.5L155.1 506.7L155.6 504.6L156.1 502.2L156.6 499.5L157.1 496.8L157.6 494.0L158.1 491.4L158.6 489.0L159.1 486.9L159.6 485.4L160.1 484.3L160.6 483.7L161.1 483.6L161.6 483.9L162.1 484.6L162.6 485.9L163.1 487.7L163.6 489.9L164.1 492.4L164.6 495.1L165.1 497.9L165.6 500.6L166.1 503.1L166.6 505.5L167.1 507.5L167.6 509.2L168.1 510.5L168.6 511.6L169.1 512.4L169.6 513.0L170.1 513.5L170.6 513.8L171.1 514.0L171.6 514.1L172.1 514.2L172.6 514.2L173.1 514.3L173.6 514.3L221.6 514.3" fill="none" stroke="#721530" stroke-width="1.2" stroke-linejoin="round"/>
<path d="M128.1 531.0L145.6 531.0L146.1 531.0L146.6 530.9L147.1 530.9L147.6 530.8L148.1 530.6L148.6 530.4L149.1 530.1L149.6 529.6L150.1 528.9L150.6 528.0L151.1 526.8L151.6 525.3L152.1 523.4L152.6 521.2L153.1 518.6L153.6 515.8L154.1 512.8L154.6 509.8L155.1 506.9L155.6 504.4L156.1 502.3L156.6 500.8L157.1 500.1L157.6 500.2L158.1 500.8L158.6 501.9L159.1 503.2L159.6 504.9L160.1 506.7L160.6 508.6L161.1 510.6L161.6 512.6L162.1 514.6L162.6 516.5L163.1 518.3L163.6 520.0L164.1 521.6L164.6 523.0L165.1 524.3L165.6 525.4L166.1 526.3L166.6 527.2L167.1 527.9L167.6 528.5L168.1 529.0L168.6 529.4L169.1 529.8L169.6 530.0L170.1 530.2L170.6 530.4L171.1 530.6L171.6 530.7L172.1 530.8L172.6 530.8L173.1 530.9L173.6 530.9L174.1 530.9L174.6 530.9L175.1 531.0L175.6 531.0L221.6 531.0L221.6 531L128.1 531Z" fill="rgba(188,18,62,0.28)" stroke="none"/>
<path d="M128.1 531.0L145.6 531.0L146.1 531.0L146.6 530.9L147.1 530.9L147.6 530.8L148.1 530.6L148.6 530.4L149.1 530.1L149.6 529.6L150.1 528.9L150.6 528.0L151.1 526.8L151.6 525.3L152.1 523.4L152.6 521.2L153.1 518.6L153.6 515.8L154.1 512.8L154.6 509.8L155.1 506.9L155.6 504.4L156.1 502.3L156.6 500.8L157.1 500.1L157.6 500.2L158.1 500.8L158.6 501.9L159.1 503.2L159.6 504.9L160.1 506.7L160.6 508.6L161.1 510.6L161.6 512.6L162.1 514.6L162.6 516.5L163.1 518.3L163.6 520.0L164.1 521.6L164.6 523.0L165.1 524.3L165.6 525.4L166.1 526.3L166.6 527.2L167.1 527.9L167.6 528.5L168.1 529.0L168.6 529.4L169.1 529.8L169.6 530.0L170.1 530.2L170.6 530.4L171.1 530.6L171.6 530.7L172.1 530.8L172.6 530.8L173.1 530.9L173.6 530.9L174.1 530.9L174.6 530.9L175.1 531.0L175.6 531.0L221.6 531.0" fill="none" stroke="#721530" stroke-width="1.2" stroke-linejoin="round"/>
<path d="M128.1 547.2L146.6 547.2L147.1 547.2L147.6 547.1L148.1 547.1L148.6 547.0L149.1 546.9L149.6 546.7L150.1 546.4L150.6 546.0L151.1 545.4L151.6 544.6L152.1 543.6L152.6 542.3L153.1 540.7L153.6 538.7L154.1 536.5L154.6 533.9L155.1 531.2L155.6 528.4L156.1 525.6L156.6 522.9L157.1 520.6L157.6 518.8L158.1 517.6L158.6 517.1L159.1 517.2L159.6 517.7L160.1 518.6L160.6 519.8L161.1 521.2L161.6 523.0L162.1 524.9L162.6 526.9L163.1 528.9L163.6 531.0L164.1 533.0L164.6 534.9L165.1 536.7L165.6 538.4L166.1 539.9L166.6 541.2L167.1 542.3L167.6 543.3L168.1 544.1L168.6 544.8L169.1 545.4L169.6 545.8L170.1 546.2L170.6 546.4L171.1 546.6L171.6 546.8L172.1 546.9L172.6 547.0L173.1 547.1L173.6 547.1L174.1 547.1L174.6 547.2L175.1 547.2L221.6 547.2L221.6 547.2L128.1 547.2Z" fill="rgba(48,72,145,0.76)" stroke="none"/>
<path d="M128.1 547.2L146.6 547.2L147.1 547.2L147.6 547.1L148.1 547.1L148.6 547.0L149.1 546.9L149.6 546.7L150.1 546.4L150.6 546.0L151.1 545.4L151.6 544.6L152.1 543.6L152.6 542.3L153.1 540.7L153.6 538.7L154.1 536.5L154.6 533.9L155.1 531.2L155.6 528.4L156.1 525.6L156.6 522.9L157.1 520.6L157.6 518.8L158.1 517.6L158.6 517.1L159.1 517.2L159.6 517.7L160.1 518.6L160.6 519.8L161.1 521.2L161.6 523.0L162.1 524.9L162.6 526.9L163.1 528.9L163.6 531.0L164.1 533.0L164.6 534.9L165.1 536.7L165.6 538.4L166.1 539.9L166.6 541.2L167.1 542.3L167.6 543.3L168.1 544.1L168.6 544.8L169.1 545.4L169.6 545.8L170.1 546.2L170.6 546.4L171.1 546.6L171.6 546.8L172.1 546.9L172.6 547.0L173.1 547.1L173.6 547.1L174.1 547.1L174.6 547.2L175.1 547.2L221.6 547.2" fill="none" stroke="#232e62" stroke-width="1.2" stroke-linejoin="round"/>
<path d="M128.1 564.0L151.1 564.0L151.6 563.9L152.1 563.9L152.6 563.9L153.1 563.8L153.6 563.6L154.1 563.4L154.6 563.1L155.1 562.7L155.6 562.1L156.1 561.4L156.6 560.4L157.1 559.1L157.6 557.5L158.1 555.6L158.6 553.4L159.1 551.0L159.6 548.3L160.1 545.5L160.6 542.8L161.1 540.1L161.6 537.8L162.1 535.8L162.6 534.4L163.1 533.7L163.6 533.6L164.1 534.0L164.6 535.0L165.1 536.3L165.6 538.0L166.1 540.0L166.6 542.3L167.1 544.6L167.6 547.0L168.1 549.3L168.6 551.5L169.1 553.5L169.6 555.4L170.1 557.0L170.6 558.5L171.1 559.7L171.6 560.7L172.1 561.5L172.6 562.1L173.1 562.6L173.6 563.0L174.1 563.3L174.6 563.5L175.1 563.7L175.6 563.8L176.1 563.8L176.6 563.9L177.1 563.9L177.6 564.0L178.1 564.0L221.6 564.0L221.6 564L128.1 564Z" fill="rgba(48,72,145,0.22)" stroke="none"/>
<path d="M128.1 564.0L151.1 564.0L151.6 563.9L152.1 563.9L152.6 563.9L153.1 563.8L153.6 563.6L154.1 563.4L154.6 563.1L155.1 562.7L155.6 562.1L156.1 561.4L156.6 560.4L157.1 559.1L157.6 557.5L158.1 555.6L158.6 553.4L159.1 551.0L159.6 548.3L160.1 545.5L160.6 542.8L161.1 540.1L161.6 537.8L162.1 535.8L162.6 534.4L163.1 533.7L163.6 533.6L164.1 534.0L164.6 535.0L165.1 536.3L165.6 538.0L166.1 540.0L166.6 542.3L167.1 544.6L167.6 547.0L168.1 549.3L168.6 551.5L169.1 553.5L169.6 555.4L170.1 557.0L170.6 558.5L171.1 559.7L171.6 560.7L172.1 561.5L172.6 562.1L173.1 562.6L173.6 563.0L174.1 563.3L174.6 563.5L175.1 563.7L175.6 563.8L176.1 563.8L176.6 563.9L177.1 563.9L177.6 564.0L178.1 564.0L221.6 564.0" fill="none" stroke="#232e62" stroke-width="1.2" stroke-linejoin="round"/>
<path d="M128.1 580.2L143.1 580.2L143.6 580.1L144.1 580.1L144.6 579.9L145.1 579.6L145.6 579.1L146.1 578.1L146.6 576.6L147.1 574.4L147.6 571.4L148.1 567.7L148.6 563.4L149.1 559.0L149.6 555.1L150.1 552.3L150.6 551.0L151.1 551.4L151.6 553.4L152.1 556.6L152.6 560.4L153.1 564.5L153.6 568.4L154.1 571.6L154.6 574.2L155.1 576.1L155.6 577.4L156.1 578.3L156.6 578.8L157.1 579.1L157.6 579.2L158.1 579.3L158.6 579.4L159.1 579.5L159.6 579.5L160.1 579.6L160.6 579.6L161.1 579.7L161.6 579.7L162.1 579.8L162.6 579.8L163.1 579.9L163.6 579.9L164.1 580.0L164.6 580.0L165.1 580.0L165.6 580.1L166.1 580.1L166.6 580.1L167.1 580.1L167.6 580.1L168.1 580.2L168.6 580.2L169.1 580.2L221.6 580.2L221.6 580.2L128.1 580.2Z" fill="rgba(108,186,78,0.6)" stroke="none"/>
<path d="M128.1 580.2L143.1 580.2L143.6 580.1L144.1 580.1L144.6 579.9L145.1 579.6L145.6 579.1L146.1 578.1L146.6 576.6L147.1 574.4L147.6 571.4L148.1 567.7L148.6 563.4L149.1 559.0L149.6 555.1L150.1 552.3L150.6 551.0L151.1 551.4L151.6 553.4L152.1 556.6L152.6 560.4L153.1 564.5L153.6 568.4L154.1 571.6L154.6 574.2L155.1 576.1L155.6 577.4L156.1 578.3L156.6 578.8L157.1 579.1L157.6 579.2L158.1 579.3L158.6 579.4L159.1 579.5L159.6 579.5L160.1 579.6L160.6 579.6L161.1 579.7L161.6 579.7L162.1 579.8L162.6 579.8L163.1 579.9L163.6 579.9L164.1 580.0L164.6 580.0L165.1 580.0L165.6 580.1L166.1 580.1L166.6 580.1L167.1 580.1L167.6 580.1L168.1 580.2L168.6 580.2L169.1 580.2L221.6 580.2" fill="none" stroke="#5a9e40" stroke-width="1.2" stroke-linejoin="round"/>
<path d="M128.1 596.9L144.1 596.9L144.6 596.8L145.1 596.8L145.6 596.6L146.1 596.2L146.6 595.5L147.1 594.3L147.6 592.4L148.1 589.6L148.6 586.0L149.1 581.6L149.6 576.8L150.1 572.4L150.6 568.9L151.1 567.1L151.6 567.1L152.1 568.0L152.6 569.6L153.1 571.9L153.6 574.6L154.1 577.5L154.6 580.5L155.1 583.5L155.6 586.2L156.1 588.6L156.6 590.6L157.1 592.3L157.6 593.6L158.1 594.6L158.6 595.3L159.1 595.9L159.6 596.2L160.1 596.5L160.6 596.7L161.1 596.8L161.6 596.8L162.1 596.9L162.6 596.9L221.6 596.9L221.6 596.9L128.1 596.9Z" fill="rgba(98,58,150,0.66)" stroke="none"/>
<path d="M128.1 596.9L144.1 596.9L144.6 596.8L145.1 596.8L145.6 596.6L146.1 596.2L146.6 595.5L147.1 594.3L147.6 592.4L148.1 589.6L148.6 586.0L149.1 581.6L149.6 576.8L150.1 572.4L150.6 568.9L151.1 567.1L151.6 567.1L152.1 568.0L152.6 569.6L153.1 571.9L153.6 574.6L154.1 577.5L154.6 580.5L155.1 583.5L155.6 586.2L156.1 588.6L156.6 590.6L157.1 592.3L157.6 593.6L158.1 594.6L158.6 595.3L159.1 595.9L159.6 596.2L160.1 596.5L160.6 596.7L161.1 596.8L161.6 596.8L162.1 596.9L162.6 596.9L221.6 596.9" fill="none" stroke="#261840" stroke-width="1.2" stroke-linejoin="round"/>
<path d="M128.1 613.5L143.1 613.5L143.6 613.5L144.1 613.4L144.6 613.3L145.1 613.1L145.6 612.7L146.1 612.0L146.6 610.9L147.1 609.3L147.6 606.9L148.1 603.7L148.6 599.8L149.1 595.4L149.6 590.9L150.1 586.9L150.6 583.9L151.1 582.3L151.6 582.3L152.1 583.0L152.6 584.4L153.1 586.3L153.6 588.6L154.1 591.2L154.6 593.9L155.1 596.7L155.6 599.4L156.1 601.9L156.6 604.2L157.1 606.2L157.6 607.9L158.1 609.3L158.6 610.4L159.1 611.2L159.6 611.9L160.1 612.4L160.6 612.8L161.1 613.0L161.6 613.2L162.1 613.3L162.6 613.4L163.1 613.4L163.6 613.5L164.1 613.5L221.6 613.5L221.6 613.5L128.1 613.5Z" fill="rgba(98,58,150,0.3)" stroke="none"/>
<path d="M128.1 613.5L143.1 613.5L143.6 613.5L144.1 613.4L144.6 613.3L145.1 613.1L145.6 612.7L146.1 612.0L146.6 610.9L147.1 609.3L147.6 606.9L148.1 603.7L148.6 599.8L149.1 595.4L149.6 590.9L150.1 586.9L150.6 583.9L151.1 582.3L151.6 582.3L152.1 583.0L152.6 584.4L153.1 586.3L153.6 588.6L154.1 591.2L154.6 593.9L155.1 596.7L155.6 599.4L156.1 601.9L156.6 604.2L157.1 606.2L157.6 607.9L158.1 609.3L158.6 610.4L159.1 611.2L159.6 611.9L160.1 612.4L160.6 612.8L161.1 613.0L161.6 613.2L162.1 613.3L162.6 613.4L163.1 613.4L163.6 613.5L164.1 613.5L221.6 613.5" fill="none" stroke="#261840" stroke-width="1.2" stroke-linejoin="round"/>
<path d="M128.1 629.9L144.6 629.9L145.1 629.9L145.6 629.8L146.1 629.6L146.6 629.3L147.1 628.6L147.6 627.5L148.1 625.7L148.6 623.1L149.1 619.7L149.6 615.7L150.1 611.4L150.6 607.2L151.1 603.5L151.6 600.7L152.1 598.9L152.6 598.1L153.1 598.0L153.6 598.4L154.1 599.4L154.6 601.0L155.1 603.0L155.6 605.3L156.1 607.9L156.6 610.5L157.1 613.2L157.6 615.8L158.1 618.2L158.6 620.4L159.1 622.3L159.6 624.0L160.1 625.3L160.6 626.5L161.1 627.4L161.6 628.1L162.1 628.6L162.6 629.0L163.1 629.3L163.6 629.5L164.1 629.6L164.6 629.7L165.1 629.8L165.6 629.8L166.1 629.9L166.6 629.9L221.6 629.9L221.6 629.9L128.1 629.9Z" fill="rgba(90,160,222,0.5)" stroke="none"/>
<path d="M128.1 629.9L144.6 629.9L145.1 629.9L145.6 629.8L146.1 629.6L146.6 629.3L147.1 628.6L147.6 627.5L148.1 625.7L148.6 623.1L149.1 619.7L149.6 615.7L150.1 611.4L150.6 607.2L151.1 603.5L151.6 600.7L152.1 598.9L152.6 598.1L153.1 598.0L153.6 598.4L154.1 599.4L154.6 601.0L155.1 603.0L155.6 605.3L156.1 607.9L156.6 610.5L157.1 613.2L157.6 615.8L158.1 618.2L158.6 620.4L159.1 622.3L159.6 624.0L160.1 625.3L160.6 626.5L161.1 627.4L161.6 628.1L162.1 628.6L162.6 629.0L163.1 629.3L163.6 629.5L164.1 629.6L164.6 629.7L165.1 629.8L165.6 629.8L166.1 629.9L166.6 629.9L221.6 629.9" fill="none" stroke="#6096cc" stroke-width="1.2" stroke-linejoin="round"/>
<path d="M128.1 646.4L144.6 646.4L145.1 646.4L145.6 646.3L146.1 646.3L146.6 646.2L147.1 646.0L147.6 645.7L148.1 645.1L148.6 644.4L149.1 643.2L149.6 641.6L150.1 639.5L150.6 636.9L151.1 633.8L151.6 630.3L152.1 626.6L152.6 623.1L153.1 619.9L153.6 617.6L154.1 616.2L154.6 615.9L155.1 616.5L155.6 618.0L156.1 620.0L156.6 622.6L157.1 625.4L157.6 628.3L158.1 631.1L158.6 633.6L159.1 635.8L159.6 637.6L160.1 639.1L160.6 640.2L161.1 641.1L161.6 641.7L162.1 642.2L162.6 642.6L163.1 642.8L163.6 642.9L164.1 643.1L164.6 643.2L165.1 643.2L165.6 643.3L166.1 643.4L166.6 643.4L167.1 643.5L167.6 643.6L168.1 643.7L168.6 643.7L169.1 643.8L169.6 643.9L170.1 644.0L170.6 644.1L171.1 644.2L171.6 644.3L172.1 644.4L172.6 644.5L173.1 644.6L173.6 644.7L174.1 644.8L174.6 644.9L175.1 645.0L175.6 645.1L176.1 645.2L176.6 645.3L177.1 645.3L177.6 645.4L178.1 645.5L178.6 645.6L179.1 645.6L179.6 645.7L180.1 645.8L180.6 645.8L181.1 645.9L181.6 645.9L182.1 646.0L182.6 646.0L183.1 646.0L183.6 646.1L184.1 646.1L184.6 646.1L185.1 646.2L185.6 646.2L186.1 646.2L186.6 646.2L187.1 646.3L187.6 646.3L188.1 646.3L188.6 646.3L189.1 646.3L189.6 646.3L190.1 646.3L190.6 646.3L191.1 646.4L191.6 646.4L192.1 646.4L192.6 646.4L193.1 646.4L221.6 646.4L221.6 646.4L128.1 646.4Z" fill="rgba(240,165,50,0.56)" stroke="none"/>
<path d="M128.1 646.4L144.6 646.4L145.1 646.4L145.6 646.3L146.1 646.3L146.6 646.2L147.1 646.0L147.6 645.7L148.1 645.1L148.6 644.4L149.1 643.2L149.6 641.6L150.1 639.5L150.6 636.9L151.1 633.8L151.6 630.3L152.1 626.6L152.6 623.1L153.1 619.9L153.6 617.6L154.1 616.2L154.6 615.9L155.1 616.5L155.6 618.0L156.1 620.0L156.6 622.6L157.1 625.4L157.6 628.3L158.1 631.1L158.6 633.6L159.1 635.8L159.6 637.6L160.1 639.1L160.6 640.2L161.1 641.1L161.6 641.7L162.1 642.2L162.6 642.6L163.1 642.8L163.6 642.9L164.1 643.1L164.6 643.2L165.1 643.2L165.6 643.3L166.1 643.4L166.6 643.4L167.1 643.5L167.6 643.6L168.1 643.7L168.6 643.7L169.1 643.8L169.6 643.9L170.1 644.0L170.6 644.1L171.1 644.2L171.6 644.3L172.1 644.4L172.6 644.5L173.1 644.6L173.6 644.7L174.1 644.8L174.6 644.9L175.1 645.0L175.6 645.1L176.1 645.2L176.6 645.3L177.1 645.3L177.6 645.4L178.1 645.5L178.6 645.6L179.1 645.6L179.6 645.7L180.1 645.8L180.6 645.8L181.1 645.9L181.6 645.9L182.1 646.0L182.6 646.0L183.1 646.0L183.6 646.1L184.1 646.1L184.6 646.1L185.1 646.2L185.6 646.2L186.1 646.2L186.6 646.2L187.1 646.3L187.6 646.3L188.1 646.3L188.6 646.3L189.1 646.3L189.6 646.3L190.1 646.3L190.6 646.3L191.1 646.4L191.6 646.4L192.1 646.4L192.6 646.4L193.1 646.4L221.6 646.4" fill="none" stroke="#dc9a3a" stroke-width="1.2" stroke-linejoin="round"/>
<rect x="127.5" y="445.8" width="94.7" height="202.4" fill="none" stroke="#000" stroke-width="1.55"/>
<path d="M277.9 490.4L296.4 490.4L296.9 490.3L297.4 489.7L297.9 487.7L298.4 482.5L298.9 472.8L299.4 460.6L299.9 452.2L300.4 453.1L300.9 462.0L301.4 473.6L301.9 482.7L302.4 487.6L302.9 489.6L303.4 490.2L303.9 490.4L369.4 490.4L369.8 490.4L277.9 490.4Z" fill="rgba(210,210,210,0.3)" stroke="none"/>
<path d="M277.9 490.4L296.4 490.4L296.9 490.3L297.4 489.7L297.9 487.7L298.4 482.5L298.9 472.8L299.4 460.6L299.9 452.2L300.4 453.1L300.9 462.0L301.4 473.6L301.9 482.7L302.4 487.6L302.9 489.6L303.4 490.2L303.9 490.4L369.4 490.4" fill="none" stroke="#c6c6c6" stroke-width="1.0" stroke-linejoin="round"/>
<path d="M276.6 510.4L294.1 510.4L294.6 510.4L295.1 510.3L295.6 510.2L296.1 510.0L296.6 509.7L297.1 509.2L297.6 508.3L298.1 506.9L298.6 504.9L299.1 502.2L299.6 498.7L300.1 494.6L300.6 489.8L301.1 485.0L301.6 480.4L302.1 476.6L302.6 474.2L303.1 473.3L303.6 473.9L304.1 475.2L304.6 477.1L305.1 479.5L305.6 482.2L306.1 485.0L306.6 487.9L307.1 490.8L307.6 493.5L308.1 496.1L308.6 498.4L309.1 500.5L309.6 502.3L310.1 503.9L310.6 505.2L311.1 506.3L311.6 507.3L312.1 508.0L312.6 508.6L313.1 509.0L313.6 509.4L314.1 509.7L314.6 509.9L315.1 510.0L315.6 510.1L316.1 510.2L316.6 510.3L317.1 510.3L317.6 510.3L318.1 510.4L318.6 510.4L369.6 510.4L369.8 510.4L276.6 510.4Z" fill="rgba(188,18,62,0.74)" stroke="none"/>
<path d="M276.6 510.4L294.1 510.4L294.6 510.4L295.1 510.3L295.6 510.2L296.1 510.0L296.6 509.7L297.1 509.2L297.6 508.3L298.1 506.9L298.6 504.9L299.1 502.2L299.6 498.7L300.1 494.6L300.6 489.8L301.1 485.0L301.6 480.4L302.1 476.6L302.6 474.2L303.1 473.3L303.6 473.9L304.1 475.2L304.6 477.1L305.1 479.5L305.6 482.2L306.1 485.0L306.6 487.9L307.1 490.8L307.6 493.5L308.1 496.1L308.6 498.4L309.1 500.5L309.6 502.3L310.1 503.9L310.6 505.2L311.1 506.3L311.6 507.3L312.1 508.0L312.6 508.6L313.1 509.0L313.6 509.4L314.1 509.7L314.6 509.9L315.1 510.0L315.6 510.1L316.1 510.2L316.6 510.3L317.1 510.3L317.6 510.3L318.1 510.4L318.6 510.4L369.6 510.4" fill="none" stroke="#721530" stroke-width="1.2" stroke-linejoin="round"/>
<path d="M276.6 530.1L293.1 530.1L293.6 530.1L294.1 530.0L294.6 530.0L295.1 529.9L295.6 529.9L296.1 529.7L296.6 529.6L297.1 529.3L297.6 529.0L298.1 528.6L298.6 528.0L299.1 527.2L299.6 526.2L300.1 525.0L300.6 523.6L301.1 521.8L301.6 519.8L302.1 517.4L302.6 514.9L303.1 512.1L303.6 509.1L304.1 506.2L304.6 503.2L305.1 500.4L305.6 497.9L306.1 495.8L306.6 494.1L307.1 493.1L307.6 492.6L308.1 492.7L308.6 493.3L309.1 494.3L309.6 495.7L310.1 497.4L310.6 499.3L311.1 501.6L311.6 503.9L312.1 506.4L312.6 508.8L313.1 511.3L313.6 513.6L314.1 515.8L314.6 517.9L315.1 519.8L315.6 521.5L316.1 523.0L316.6 524.3L317.1 525.5L317.6 526.4L318.1 527.2L318.6 527.8L319.1 528.4L319.6 528.8L320.1 529.1L320.6 529.4L321.1 529.6L321.6 529.7L322.1 529.8L322.6 529.9L323.1 530.0L323.6 530.0L324.1 530.0L324.6 530.1L325.1 530.1L369.6 530.1L369.8 530.1L276.6 530.1Z" fill="rgba(188,18,62,0.36)" stroke="none"/>
<path d="M276.6 530.1L293.1 530.1L293.6 530.1L294.1 530.0L294.6 530.0L295.1 529.9L295.6 529.9L296.1 529.7L296.6 529.6L297.1 529.3L297.6 529.0L298.1 528.6L298.6 528.0L299.1 527.2L299.6 526.2L300.1 525.0L300.6 523.6L301.1 521.8L301.6 519.8L302.1 517.4L302.6 514.9L303.1 512.1L303.6 509.1L304.1 506.2L304.6 503.2L305.1 500.4L305.6 497.9L306.1 495.8L306.6 494.1L307.1 493.1L307.6 492.6L308.1 492.7L308.6 493.3L309.1 494.3L309.6 495.7L310.1 497.4L310.6 499.3L311.1 501.6L311.6 503.9L312.1 506.4L312.6 508.8L313.1 511.3L313.6 513.6L314.1 515.8L314.6 517.9L315.1 519.8L315.6 521.5L316.1 523.0L316.6 524.3L317.1 525.5L317.6 526.4L318.1 527.2L318.6 527.8L319.1 528.4L319.6 528.8L320.1 529.1L320.6 529.4L321.1 529.6L321.6 529.7L322.1 529.8L322.6 529.9L323.1 530.0L323.6 530.0L324.1 530.0L324.6 530.1L325.1 530.1L369.6 530.1" fill="none" stroke="#721530" stroke-width="1.2" stroke-linejoin="round"/>
<path d="M276.6 550.0L294.6 550.0L295.1 550.0L295.6 549.8L296.1 549.2L296.6 547.7L297.1 544.1L297.6 537.7L298.1 528.7L298.6 519.4L299.1 513.7L299.6 514.9L300.1 520.4L300.6 526.6L301.1 532.3L301.6 537.1L302.1 540.8L302.6 543.5L303.1 545.4L303.6 546.8L304.1 547.7L304.6 548.2L305.1 548.6L305.6 548.9L306.1 549.1L306.6 549.2L307.1 549.3L307.6 549.4L308.1 549.5L308.6 549.6L309.1 549.7L309.6 549.7L310.1 549.8L310.6 549.8L311.1 549.9L311.6 549.9L312.1 549.9L312.6 549.9L313.1 550.0L313.6 550.0L314.1 550.0L369.6 550.0L369.8 550L276.6 550Z" fill="rgba(48,72,145,0.76)" stroke="none"/>
<path d="M276.6 550.0L294.6 550.0L295.1 550.0L295.6 549.8L296.1 549.2L296.6 547.7L297.1 544.1L297.6 537.7L298.1 528.7L298.6 519.4L299.1 513.7L299.6 514.9L300.1 520.4L300.6 526.6L301.1 532.3L301.6 537.1L302.1 540.8L302.6 543.5L303.1 545.4L303.6 546.8L304.1 547.7L304.6 548.2L305.1 548.6L305.6 548.9L306.1 549.1L306.6 549.2L307.1 549.3L307.6 549.4L308.1 549.5L308.6 549.6L309.1 549.7L309.6 549.7L310.1 549.8L310.6 549.8L311.1 549.9L311.6 549.9L312.1 549.9L312.6 549.9L313.1 550.0L313.6 550.0L314.1 550.0L369.6 550.0" fill="none" stroke="#232e62" stroke-width="1.2" stroke-linejoin="round"/>
<path d="M276.6 569.4L294.1 569.4L294.6 569.3L295.1 569.0L295.6 568.1L296.1 565.8L296.6 561.4L297.1 554.1L297.6 545.0L298.1 536.6L298.6 532.4L299.1 534.7L299.6 540.4L300.1 546.9L300.6 553.0L301.1 558.0L301.6 561.9L302.1 564.7L302.6 566.6L303.1 567.8L303.6 568.5L304.1 568.9L304.6 569.1L305.1 569.3L305.6 569.3L306.1 569.4L369.6 569.4L369.8 569.4L276.6 569.4Z" fill="rgba(48,72,145,0.22)" stroke="none"/>
<path d="M276.6 569.4L294.1 569.4L294.6 569.3L295.1 569.0L295.6 568.1L296.1 565.8L296.6 561.4L297.1 554.1L297.6 545.0L298.1 536.6L298.6 532.4L299.1 534.7L299.6 540.4L300.1 546.9L300.6 553.0L301.1 558.0L301.6 561.9L302.1 564.7L302.6 566.6L303.1 567.8L303.6 568.5L304.1 568.9L304.6 569.1L305.1 569.3L305.6 569.3L306.1 569.4L369.6 569.4" fill="none" stroke="#232e62" stroke-width="1.2" stroke-linejoin="round"/>
<path d="M276.6 589.3L297.1 589.3L297.6 589.2L298.1 588.9L298.6 588.1L299.1 585.8L299.6 581.2L300.1 573.5L300.6 564.0L301.1 555.7L301.6 552.4L302.1 554.7L302.6 558.6L303.1 563.0L303.6 567.4L304.1 571.5L304.6 575.2L305.1 578.3L305.6 580.9L306.1 583.0L306.6 584.6L307.1 585.9L307.6 586.9L308.1 587.6L308.6 588.1L309.1 588.5L309.6 588.7L310.1 588.9L310.6 589.1L311.1 589.1L311.6 589.2L312.1 589.2L312.6 589.3L313.1 589.3L369.6 589.3L369.8 589.3L276.6 589.3Z" fill="rgba(108,186,78,0.6)" stroke="none"/>
<path d="M276.6 589.3L297.1 589.3L297.6 589.2L298.1 588.9L298.6 588.1L299.1 585.8L299.6 581.2L300.1 573.5L300.6 564.0L301.1 555.7L301.6 552.4L302.1 554.7L302.6 558.6L303.1 563.0L303.6 567.4L304.1 571.5L304.6 575.2L305.1 578.3L305.6 580.9L306.1 583.0L306.6 584.6L307.1 585.9L307.6 586.9L308.1 587.6L308.6 588.1L309.1 588.5L309.6 588.7L310.1 588.9L310.6 589.1L311.1 589.1L311.6 589.2L312.1 589.2L312.6 589.3L313.1 589.3L369.6 589.3" fill="none" stroke="#5a9e40" stroke-width="1.2" stroke-linejoin="round"/>
<path d="M276.6 609.0L293.6 609.0L294.1 609.0L294.6 608.9L295.1 608.8L295.6 608.5L296.1 608.0L296.6 607.0L297.1 605.3L297.6 602.7L298.1 599.0L298.6 594.2L299.1 588.4L299.6 582.4L300.1 577.0L300.6 573.0L301.1 571.2L301.6 572.4L302.1 575.2L302.6 578.6L303.1 582.2L303.6 585.8L304.1 589.3L304.6 592.5L305.1 595.3L305.6 597.8L306.1 600.0L306.6 601.8L307.1 603.3L307.6 604.5L308.1 605.5L308.6 606.3L309.1 607.0L309.6 607.5L310.1 607.9L310.6 608.2L311.1 608.4L311.6 608.5L312.1 608.7L312.6 608.8L313.1 608.8L313.6 608.9L314.1 608.9L314.6 608.9L315.1 609.0L315.6 609.0L369.6 609.0L369.8 609L276.6 609Z" fill="rgba(98,58,150,0.66)" stroke="none"/>
<path d="M276.6 609.0L293.6 609.0L294.1 609.0L294.6 608.9L295.1 608.8L295.6 608.5L296.1 608.0L296.6 607.0L297.1 605.3L297.6 602.7L298.1 599.0L298.6 594.2L299.1 588.4L299.6 582.4L300.1 577.0L300.6 573.0L301.1 571.2L301.6 572.4L302.1 575.2L302.6 578.6L303.1 582.2L303.6 585.8L304.1 589.3L304.6 592.5L305.1 595.3L305.6 597.8L306.1 600.0L306.6 601.8L307.1 603.3L307.6 604.5L308.1 605.5L308.6 606.3L309.1 607.0L309.6 607.5L310.1 607.9L310.6 608.2L311.1 608.4L311.6 608.5L312.1 608.7L312.6 608.8L313.1 608.8L313.6 608.9L314.1 608.9L314.6 608.9L315.1 609.0L315.6 609.0L369.6 609.0" fill="none" stroke="#261840" stroke-width="1.2" stroke-linejoin="round"/>
<path d="M276.6 628.9L293.6 628.9L294.1 628.9L294.6 628.8L295.1 628.6L295.6 628.2L296.1 627.3L296.6 625.5L297.1 622.4L297.6 617.8L298.1 611.7L298.6 604.7L299.1 598.1L299.6 593.2L300.1 591.4L300.6 592.4L301.1 595.1L301.6 599.2L302.1 604.1L302.6 609.2L303.1 614.1L303.6 618.3L304.1 621.7L304.6 624.3L305.1 626.1L305.6 627.3L306.1 628.0L306.6 628.4L307.1 628.7L307.6 628.8L308.1 628.8L308.6 628.9L369.6 628.9L369.8 628.9L276.6 628.9Z" fill="rgba(98,58,150,0.3)" stroke="none"/>
<path d="M276.6 628.9L293.6 628.9L294.1 628.9L294.6 628.8L295.1 628.6L295.6 628.2L296.1 627.3L296.6 625.5L297.1 622.4L297.6 617.8L298.1 611.7L298.6 604.7L299.1 598.1L299.6 593.2L300.1 591.4L300.6 592.4L301.1 595.1L301.6 599.2L302.1 604.1L302.6 609.2L303.1 614.1L303.6 618.3L304.1 621.7L304.6 624.3L305.1 626.1L305.6 627.3L306.1 628.0L306.6 628.4L307.1 628.7L307.6 628.8L308.1 628.8L308.6 628.9L369.6 628.9" fill="none" stroke="#261840" stroke-width="1.2" stroke-linejoin="round"/>
<path d="M276.6 648.0L309.1 648.0L309.6 648.0L310.1 647.9L310.6 647.9L311.1 647.9L311.6 647.9L312.1 647.8L312.6 647.7L313.1 647.6L313.6 647.5L314.1 647.4L314.6 647.2L315.1 647.0L315.6 646.7L316.1 646.4L316.6 646.0L317.1 645.5L317.6 645.0L318.1 644.3L318.6 643.6L319.1 642.7L319.6 641.8L320.1 640.8L320.6 639.6L321.1 638.4L321.6 637.0L322.1 635.7L322.6 634.2L323.1 632.8L323.6 631.3L324.1 629.9L324.6 628.5L325.1 627.2L325.6 626.0L326.1 625.0L326.6 624.2L327.1 623.5L327.6 622.8L328.1 621.9L328.6 620.2L329.1 618.3L329.6 617.7L330.1 619.2L330.6 621.9L331.1 624.7L331.6 626.8L332.1 628.4L332.6 629.9L333.1 631.3L333.6 632.8L334.1 634.2L334.6 635.6L335.1 637.0L335.6 638.3L336.1 639.5L336.6 640.6L337.1 641.7L337.6 642.6L338.1 643.5L338.6 644.2L339.1 644.8L339.6 645.4L340.1 645.9L340.6 646.3L341.1 646.6L341.6 646.9L342.1 647.2L342.6 647.3L343.1 647.5L343.6 647.6L344.1 647.7L344.6 647.8L345.1 647.8L345.6 647.9L346.1 647.9L346.6 647.9L347.1 648.0L347.6 648.0L348.1 648.0L369.6 648.0L369.8 648L276.6 648Z" fill="rgba(240,165,50,0.56)" stroke="none"/>
<path d="M276.6 648.0L309.1 648.0L309.6 648.0L310.1 647.9L310.6 647.9L311.1 647.9L311.6 647.9L312.1 647.8L312.6 647.7L313.1 647.6L313.6 647.5L314.1 647.4L314.6 647.2L315.1 647.0L315.6 646.7L316.1 646.4L316.6 646.0L317.1 645.5L317.6 645.0L318.1 644.3L318.6 643.6L319.1 642.7L319.6 641.8L320.1 640.8L320.6 639.6L321.1 638.4L321.6 637.0L322.1 635.7L322.6 634.2L323.1 632.8L323.6 631.3L324.1 629.9L324.6 628.5L325.1 627.2L325.6 626.0L326.1 625.0L326.6 624.2L327.1 623.5L327.6 622.8L328.1 621.9L328.6 620.2L329.1 618.3L329.6 617.7L330.1 619.2L330.6 621.9L331.1 624.7L331.6 626.8L332.1 628.4L332.6 629.9L333.1 631.3L333.6 632.8L334.1 634.2L334.6 635.6L335.1 637.0L335.6 638.3L336.1 639.5L336.6 640.6L337.1 641.7L337.6 642.6L338.1 643.5L338.6 644.2L339.1 644.8L339.6 645.4L340.1 645.9L340.6 646.3L341.1 646.6L341.6 646.9L342.1 647.2L342.6 647.3L343.1 647.5L343.6 647.6L344.1 647.7L344.6 647.8L345.1 647.8L345.6 647.9L346.1 647.9L346.6 647.9L347.1 648.0L347.6 648.0L348.1 648.0L369.6 648.0" fill="none" stroke="#dc9a3a" stroke-width="1.2" stroke-linejoin="round"/>
<rect x="276" y="445.8" width="94.4" height="202.4" fill="none" stroke="#000" stroke-width="1.55"/>
<path d="M375.5 490.4L391.5 490.4L392.0 490.3L392.5 489.6L393.0 487.2L393.5 480.9L394.0 469.9L394.5 457.8L395.0 452.4L395.5 457.3L396.0 468.6L396.5 479.5L397.0 486.3L397.5 489.2L398.0 490.1L398.5 490.4L399.0 490.4L468.0 490.4L468.2 490.4L375.5 490.4Z" fill="rgba(210,210,210,0.3)" stroke="none"/>
<path d="M375.5 490.4L391.5 490.4L392.0 490.3L392.5 489.6L393.0 487.2L393.5 480.9L394.0 469.9L394.5 457.8L395.0 452.4L395.5 457.3L396.0 468.6L396.5 479.5L397.0 486.3L397.5 489.2L398.0 490.1L398.5 490.4L399.0 490.4L468.0 490.4" fill="none" stroke="#c6c6c6" stroke-width="1.0" stroke-linejoin="round"/>
<path d="M374.2 510.4L390.2 510.4L390.7 510.3L391.2 510.2L391.7 509.9L392.2 509.0L392.7 507.3L393.2 504.2L393.7 499.2L394.2 492.6L394.7 485.3L395.2 478.9L395.7 475.3L396.2 476.4L396.7 479.9L397.2 483.7L397.7 487.3L398.2 490.6L398.7 493.6L399.2 496.2L399.7 498.4L400.2 500.2L400.7 501.8L401.2 503.1L401.7 504.2L402.2 505.1L402.7 505.9L403.2 506.5L403.7 507.0L404.2 507.4L404.7 507.8L405.2 508.1L405.7 508.3L406.2 508.6L406.7 508.8L407.2 508.9L407.7 509.1L408.2 509.2L408.7 509.3L409.2 509.5L409.7 509.6L410.2 509.7L410.7 509.8L411.2 509.8L411.7 509.9L412.2 510.0L412.7 510.0L413.2 510.1L413.7 510.1L414.2 510.2L414.7 510.2L415.2 510.2L415.7 510.3L416.2 510.3L416.7 510.3L417.2 510.3L417.7 510.3L418.2 510.4L418.7 510.4L419.2 510.4L468.2 510.4L468.2 510.4L374.2 510.4Z" fill="rgba(188,18,62,0.74)" stroke="none"/>
<path d="M374.2 510.4L390.2 510.4L390.7 510.3L391.2 510.2L391.7 509.9L392.2 509.0L392.7 507.3L393.2 504.2L393.7 499.2L394.2 492.6L394.7 485.3L395.2 478.9L395.7 475.3L396.2 476.4L396.7 479.9L397.2 483.7L397.7 487.3L398.2 490.6L398.7 493.6L399.2 496.2L399.7 498.4L400.2 500.2L400.7 501.8L401.2 503.1L401.7 504.2L402.2 505.1L402.7 505.9L403.2 506.5L403.7 507.0L404.2 507.4L404.7 507.8L405.2 508.1L405.7 508.3L406.2 508.6L406.7 508.8L407.2 508.9L407.7 509.1L408.2 509.2L408.7 509.3L409.2 509.5L409.7 509.6L410.2 509.7L410.7 509.8L411.2 509.8L411.7 509.9L412.2 510.0L412.7 510.0L413.2 510.1L413.7 510.1L414.2 510.2L414.7 510.2L415.2 510.2L415.7 510.3L416.2 510.3L416.7 510.3L417.2 510.3L417.7 510.3L418.2 510.4L418.7 510.4L419.2 510.4L468.2 510.4" fill="none" stroke="#721530" stroke-width="1.2" stroke-linejoin="round"/>
<path d="M374.2 530.1L390.7 530.1L391.2 530.0L391.7 529.9L392.2 529.7L392.7 529.3L393.2 528.3L393.7 526.6L394.2 523.9L394.7 519.9L395.2 514.7L395.7 508.6L396.2 502.4L396.7 497.2L397.2 494.1L397.7 493.9L398.2 496.5L398.7 500.5L399.2 505.1L399.7 509.8L400.2 514.2L400.7 518.1L401.2 521.3L401.7 523.8L402.2 525.8L402.7 527.2L403.2 528.2L403.7 528.9L404.2 529.4L404.7 529.7L405.2 529.8L405.7 530.0L406.2 530.0L406.7 530.1L407.2 530.1L468.2 530.1L468.2 530.1L374.2 530.1Z" fill="rgba(188,18,62,0.36)" stroke="none"/>
<path d="M374.2 530.1L390.7 530.1L391.2 530.0L391.7 529.9L392.2 529.7L392.7 529.3L393.2 528.3L393.7 526.6L394.2 523.9L394.7 519.9L395.2 514.7L395.7 508.6L396.2 502.4L396.7 497.2L397.2 494.1L397.7 493.9L398.2 496.5L398.7 500.5L399.2 505.1L399.7 509.8L400.2 514.2L400.7 518.1L401.2 521.3L401.7 523.8L402.2 525.8L402.7 527.2L403.2 528.2L403.7 528.9L404.2 529.4L404.7 529.7L405.2 529.8L405.7 530.0L406.2 530.0L406.7 530.1L407.2 530.1L468.2 530.1" fill="none" stroke="#721530" stroke-width="1.2" stroke-linejoin="round"/>
<path d="M374.2 550.0L388.2 550.0L388.7 550.0L389.2 549.9L389.7 549.9L390.2 549.8L390.7 549.6L391.2 549.4L391.7 549.0L392.2 548.4L392.7 547.6L393.2 546.4L393.7 544.9L394.2 542.9L394.7 540.4L395.2 537.4L395.7 534.0L396.2 530.2L396.7 526.2L397.2 522.4L397.7 518.8L398.2 515.8L398.7 513.6L399.2 512.3L399.7 512.2L400.2 512.9L400.7 514.3L401.2 516.4L401.7 518.9L402.2 521.9L402.7 525.1L403.2 528.3L403.7 531.6L404.2 534.6L404.7 537.4L405.2 539.9L405.7 542.1L406.2 543.9L406.7 545.4L407.2 546.6L407.7 547.6L408.2 548.3L408.7 548.8L409.2 549.2L409.7 549.5L410.2 549.6L410.7 549.8L411.2 549.9L411.7 549.9L412.2 549.9L412.7 550.0L413.2 550.0L468.2 550.0L468.2 550L374.2 550Z" fill="rgba(48,72,145,0.76)" stroke="none"/>
<path d="M374.2 550.0L388.2 550.0L388.7 550.0L389.2 549.9L389.7 549.9L390.2 549.8L390.7 549.6L391.2 549.4L391.7 549.0L392.2 548.4L392.7 547.6L393.2 546.4L393.7 544.9L394.2 542.9L394.7 540.4L395.2 537.4L395.7 534.0L396.2 530.2L396.7 526.2L397.2 522.4L397.7 518.8L398.2 515.8L398.7 513.6L399.2 512.3L399.7 512.2L400.2 512.9L400.7 514.3L401.2 516.4L401.7 518.9L402.2 521.9L402.7 525.1L403.2 528.3L403.7 531.6L404.2 534.6L404.7 537.4L405.2 539.9L405.7 542.1L406.2 543.9L406.7 545.4L407.2 546.6L407.7 547.6L408.2 548.3L408.7 548.8L409.2 549.2L409.7 549.5L410.2 549.6L410.7 549.8L411.2 549.9L411.7 549.9L412.2 549.9L412.7 550.0L413.2 550.0L468.2 550.0" fill="none" stroke="#232e62" stroke-width="1.2" stroke-linejoin="round"/>
<path d="M374.2 569.4L388.2 569.4L388.7 569.4L389.2 569.3L389.7 569.2L390.2 569.0L390.7 568.6L391.2 568.0L391.7 566.9L392.2 565.2L392.7 562.7L393.2 559.4L393.7 555.3L394.2 550.6L394.7 545.6L395.2 541.1L395.7 537.5L396.2 535.4L396.7 535.1L397.2 535.2L397.7 535.4L398.2 535.8L398.7 536.3L399.2 536.9L399.7 537.5L400.2 538.3L400.7 539.2L401.2 540.2L401.7 541.2L402.2 542.3L402.7 543.4L403.2 544.6L403.7 545.8L404.2 547.1L404.7 548.3L405.2 549.6L405.7 550.8L406.2 552.1L406.7 553.3L407.2 554.5L407.7 555.6L408.2 556.7L408.7 557.8L409.2 558.8L409.7 559.7L410.2 560.6L410.7 561.5L411.2 562.3L411.7 563.0L412.2 563.7L412.7 564.3L413.2 564.9L413.7 565.4L414.2 565.9L414.7 566.3L415.2 566.7L415.7 567.0L416.2 567.3L416.7 567.6L417.2 567.9L417.7 568.1L418.2 568.3L418.7 568.4L419.2 568.6L419.7 568.7L420.2 568.8L420.7 568.9L421.2 569.0L421.7 569.1L422.2 569.1L422.7 569.2L423.2 569.2L423.7 569.2L424.2 569.3L424.7 569.3L425.2 569.3L425.7 569.3L426.2 569.3L426.7 569.4L427.2 569.4L427.7 569.4L468.2 569.4L468.2 569.4L374.2 569.4Z" fill="rgba(48,72,145,0.22)" stroke="none"/>
<path d="M374.2 569.4L388.2 569.4L388.7 569.4L389.2 569.3L389.7 569.2L390.2 569.0L390.7 568.6L391.2 568.0L391.7 566.9L392.2 565.2L392.7 562.7L393.2 559.4L393.7 555.3L394.2 550.6L394.7 545.6L395.2 541.1L395.7 537.5L396.2 535.4L396.7 535.1L397.2 535.2L397.7 535.4L398.2 535.8L398.7 536.3L399.2 536.9L399.7 537.5L400.2 538.3L400.7 539.2L401.2 540.2L401.7 541.2L402.2 542.3L402.7 543.4L403.2 544.6L403.7 545.8L404.2 547.1L404.7 548.3L405.2 549.6L405.7 550.8L406.2 552.1L406.7 553.3L407.2 554.5L407.7 555.6L408.2 556.7L408.7 557.8L409.2 558.8L409.7 559.7L410.2 560.6L410.7 561.5L411.2 562.3L411.7 563.0L412.2 563.7L412.7 564.3L413.2 564.9L413.7 565.4L414.2 565.9L414.7 566.3L415.2 566.7L415.7 567.0L416.2 567.3L416.7 567.6L417.2 567.9L417.7 568.1L418.2 568.3L418.7 568.4L419.2 568.6L419.7 568.7L420.2 568.8L420.7 568.9L421.2 569.0L421.7 569.1L422.2 569.1L422.7 569.2L423.2 569.2L423.7 569.2L424.2 569.3L424.7 569.3L425.2 569.3L425.7 569.3L426.2 569.3L426.7 569.4L427.2 569.4L427.7 569.4L468.2 569.4" fill="none" stroke="#232e62" stroke-width="1.2" stroke-linejoin="round"/>
<path d="M374.2 589.3L389.2 589.3L389.7 589.3L390.2 589.2L390.7 589.1L391.2 588.9L391.7 588.4L392.2 587.5L392.7 586.0L393.2 583.7L393.7 580.3L394.2 575.9L394.7 570.6L395.2 565.0L395.7 559.7L396.2 555.7L396.7 553.6L397.2 553.6L397.7 554.2L398.2 555.1L398.7 556.2L399.2 557.4L399.7 558.5L400.2 559.6L400.7 560.6L401.2 561.5L401.7 562.2L402.2 562.9L402.7 563.4L403.2 564.0L403.7 564.4L404.2 564.9L404.7 565.4L405.2 565.9L405.7 566.4L406.2 566.9L406.7 567.5L407.2 568.0L407.7 568.6L408.2 569.2L408.7 569.8L409.2 570.4L409.7 571.1L410.2 571.7L410.7 572.4L411.2 573.0L411.7 573.7L412.2 574.3L412.7 575.0L413.2 575.6L413.7 576.2L414.2 576.9L414.7 577.5L415.2 578.1L415.7 578.7L416.2 579.3L416.7 579.8L417.2 580.4L417.7 580.9L418.2 581.4L418.7 581.9L419.2 582.4L419.7 582.9L420.2 583.3L420.7 583.7L421.2 584.1L421.7 584.5L422.2 584.9L422.7 585.2L423.2 585.6L423.7 585.9L424.2 586.1L424.7 586.4L425.2 586.7L425.7 586.9L426.2 587.1L426.7 587.3L427.2 587.5L427.7 587.7L428.2 587.8L428.7 588.0L429.2 588.1L429.7 588.2L430.2 588.3L430.7 588.4L431.2 588.5L431.7 588.6L432.2 588.7L432.7 588.8L433.2 588.8L433.7 588.9L434.2 588.9L434.7 589.0L435.2 589.0L435.7 589.0L436.2 589.1L436.7 589.1L437.2 589.1L437.7 589.2L438.2 589.2L438.7 589.2L439.2 589.2L439.7 589.2L440.2 589.2L440.7 589.2L441.2 589.2L441.7 589.3L442.2 589.3L442.7 589.3L443.2 589.3L468.2 589.3L468.2 589.3L374.2 589.3Z" fill="rgba(108,186,78,0.6)" stroke="none"/>
<path d="M374.2 589.3L389.2 589.3L389.7 589.3L390.2 589.2L390.7 589.1L391.2 588.9L391.7 588.4L392.2 587.5L392.7 586.0L393.2 583.7L393.7 580.3L394.2 575.9L394.7 570.6L395.2 565.0L395.7 559.7L396.2 555.7L396.7 553.6L397.2 553.6L397.7 554.2L398.2 555.1L398.7 556.2L399.2 557.4L399.7 558.5L400.2 559.6L400.7 560.6L401.2 561.5L401.7 562.2L402.2 562.9L402.7 563.4L403.2 564.0L403.7 564.4L404.2 564.9L404.7 565.4L405.2 565.9L405.7 566.4L406.2 566.9L406.7 567.5L407.2 568.0L407.7 568.6L408.2 569.2L408.7 569.8L409.2 570.4L409.7 571.1L410.2 571.7L410.7 572.4L411.2 573.0L411.7 573.7L412.2 574.3L412.7 575.0L413.2 575.6L413.7 576.2L414.2 576.9L414.7 577.5L415.2 578.1L415.7 578.7L416.2 579.3L416.7 579.8L417.2 580.4L417.7 580.9L418.2 581.4L418.7 581.9L419.2 582.4L419.7 582.9L420.2 583.3L420.7 583.7L421.2 584.1L421.7 584.5L422.2 584.9L422.7 585.2L423.2 585.6L423.7 585.9L424.2 586.1L424.7 586.4L425.2 586.7L425.7 586.9L426.2 587.1L426.7 587.3L427.2 587.5L427.7 587.7L428.2 587.8L428.7 588.0L429.2 588.1L429.7 588.2L430.2 588.3L430.7 588.4L431.2 588.5L431.7 588.6L432.2 588.7L432.7 588.8L433.2 588.8L433.7 588.9L434.2 588.9L434.7 589.0L435.2 589.0L435.7 589.0L436.2 589.1L436.7 589.1L437.2 589.1L437.7 589.2L438.2 589.2L438.7 589.2L439.2 589.2L439.7 589.2L440.2 589.2L440.7 589.2L441.2 589.2L441.7 589.3L442.2 589.3L442.7 589.3L443.2 589.3L468.2 589.3" fill="none" stroke="#5a9e40" stroke-width="1.2" stroke-linejoin="round"/>
<path d="M374.2 608.9L374.7 608.9L375.2 608.9L375.7 608.9L376.2 608.9L376.7 608.9L377.2 608.9L377.7 608.9L378.2 608.8L378.7 608.8L379.2 608.8L379.7 608.8L380.2 608.7L380.7 608.7L381.2 608.7L381.7 608.6L382.2 608.6L382.7 608.6L383.2 608.5L383.7 608.5L384.2 608.4L384.7 608.4L385.2 608.3L385.7 608.2L386.2 608.2L386.7 608.1L387.2 608.0L387.7 607.9L388.2 607.8L388.7 607.7L389.2 607.6L389.7 607.4L390.2 607.1L390.7 606.6L391.2 605.6L391.7 603.9L392.2 601.0L392.7 596.8L393.2 591.2L393.7 584.8L394.2 578.6L394.7 573.9L395.2 571.8L395.7 571.9L396.2 573.1L396.7 575.3L397.2 578.1L397.7 581.4L398.2 584.6L398.7 587.7L399.2 590.4L399.7 592.6L400.2 594.4L400.7 595.8L401.2 596.8L401.7 597.5L402.2 598.0L402.7 598.4L403.2 598.7L403.7 599.0L404.2 599.2L404.7 599.4L405.2 599.6L405.7 599.8L406.2 599.9L406.7 600.0L407.2 600.1L407.7 600.2L408.2 600.3L408.7 600.3L409.2 600.3L409.7 600.3L410.2 600.3L410.7 600.3L411.2 600.4L411.7 600.4L412.2 600.4L412.7 600.4L413.2 600.4L413.7 600.4L414.2 600.5L414.7 600.5L415.2 600.5L415.7 600.6L416.2 600.6L416.7 600.7L417.2 600.8L417.7 600.9L418.2 601.0L418.7 601.1L419.2 601.3L419.7 601.5L420.2 601.7L420.7 601.9L421.2 602.2L421.7 602.4L422.2 602.7L422.7 603.0L423.2 603.3L423.7 603.6L424.2 603.9L424.7 604.3L425.2 604.6L425.7 604.9L426.2 605.3L426.7 605.6L427.2 605.9L427.7 606.2L428.2 606.5L428.7 606.8L429.2 607.0L429.7 607.3L430.2 607.5L430.7 607.7L431.2 607.9L431.7 608.1L432.2 608.2L432.7 608.3L433.2 608.5L433.7 608.6L434.2 608.6L434.7 608.7L435.2 608.8L435.7 608.8L436.2 608.9L436.7 608.9L437.2 608.9L437.7 608.9L438.2 609.0L438.7 609.0L439.2 609.0L468.2 609.0L468.2 609L374.2 609Z" fill="rgba(98,58,150,0.66)" stroke="none"/>
<path d="M374.2 608.9L374.7 608.9L375.2 608.9L375.7 608.9L376.2 608.9L376.7 608.9L377.2 608.9L377.7 608.9L378.2 608.8L378.7 608.8L379.2 608.8L379.7 608.8L380.2 608.7L380.7 608.7L381.2 608.7L381.7 608.6L382.2 608.6L382.7 608.6L383.2 608.5L383.7 608.5L384.2 608.4L384.7 608.4L385.2 608.3L385.7 608.2L386.2 608.2L386.7 608.1L387.2 608.0L387.7 607.9L388.2 607.8L388.7 607.7L389.2 607.6L389.7 607.4L390.2 607.1L390.7 606.6L391.2 605.6L391.7 603.9L392.2 601.0L392.7 596.8L393.2 591.2L393.7 584.8L394.2 578.6L394.7 573.9L395.2 571.8L395.7 571.9L396.2 573.1L396.7 575.3L397.2 578.1L397.7 581.4L398.2 584.6L398.7 587.7L399.2 590.4L399.7 592.6L400.2 594.4L400.7 595.8L401.2 596.8L401.7 597.5L402.2 598.0L402.7 598.4L403.2 598.7L403.7 599.0L404.2 599.2L404.7 599.4L405.2 599.6L405.7 599.8L406.2 599.9L406.7 600.0L407.2 600.1L407.7 600.2L408.2 600.3L408.7 600.3L409.2 600.3L409.7 600.3L410.2 600.3L410.7 600.3L411.2 600.4L411.7 600.4L412.2 600.4L412.7 600.4L413.2 600.4L413.7 600.4L414.2 600.5L414.7 600.5L415.2 600.5L415.7 600.6L416.2 600.6L416.7 600.7L417.2 600.8L417.7 600.9L418.2 601.0L418.7 601.1L419.2 601.3L419.7 601.5L420.2 601.7L420.7 601.9L421.2 602.2L421.7 602.4L422.2 602.7L422.7 603.0L423.2 603.3L423.7 603.6L424.2 603.9L424.7 604.3L425.2 604.6L425.7 604.9L426.2 605.3L426.7 605.6L427.2 605.9L427.7 606.2L428.2 606.5L428.7 606.8L429.2 607.0L429.7 607.3L430.2 607.5L430.7 607.7L431.2 607.9L431.7 608.1L432.2 608.2L432.7 608.3L433.2 608.5L433.7 608.6L434.2 608.6L434.7 608.7L435.2 608.8L435.7 608.8L436.2 608.9L436.7 608.9L437.2 608.9L437.7 608.9L438.2 609.0L438.7 609.0L439.2 609.0L468.2 609.0" fill="none" stroke="#261840" stroke-width="1.2" stroke-linejoin="round"/>
<path d="M374.2 628.9L374.7 628.9L375.2 628.9L375.7 628.8L376.2 628.8L376.7 628.8L377.2 628.8L377.7 628.8L378.2 628.8L378.7 628.8L379.2 628.7L379.7 628.7L380.2 628.7L380.7 628.7L381.2 628.6L381.7 628.6L382.2 628.5L382.7 628.5L383.2 628.4L383.7 628.3L384.2 628.3L384.7 628.2L385.2 628.1L385.7 628.0L386.2 627.8L386.7 627.7L387.2 627.6L387.7 627.4L388.2 627.2L388.7 627.0L389.2 626.8L389.7 626.5L390.2 626.2L390.7 625.7L391.2 625.0L391.7 623.9L392.2 622.3L392.7 620.0L393.2 616.9L393.7 613.0L394.2 608.5L394.7 603.8L395.2 599.5L395.7 596.3L396.2 594.5L396.7 594.0L397.2 594.4L397.7 595.5L398.2 597.1L398.7 599.0L399.2 601.0L399.7 602.8L400.2 604.4L400.7 605.8L401.2 606.8L401.7 607.6L402.2 608.1L402.7 608.4L403.2 608.6L403.7 608.8L404.2 608.9L404.7 609.0L405.2 609.1L405.7 609.3L406.2 609.4L406.7 609.5L407.2 609.7L407.7 609.8L408.2 609.9L408.7 610.1L409.2 610.2L409.7 610.3L410.2 610.5L410.7 610.6L411.2 610.7L411.7 610.8L412.2 610.9L412.7 611.1L413.2 611.2L413.7 611.4L414.2 611.6L414.7 611.9L415.2 612.1L415.7 612.5L416.2 612.8L416.7 613.2L417.2 613.7L417.7 614.1L418.2 614.7L418.7 615.2L419.2 615.8L419.7 616.4L420.2 617.0L420.7 617.6L421.2 618.3L421.7 618.9L422.2 619.6L422.7 620.2L423.2 620.8L423.7 621.5L424.2 622.1L424.7 622.7L425.2 623.3L425.7 623.8L426.2 624.3L426.7 624.8L427.2 625.3L427.7 625.7L428.2 626.1L428.7 626.4L429.2 626.8L429.7 627.1L430.2 627.3L430.7 627.5L431.2 627.8L431.7 627.9L432.2 628.1L432.7 628.2L433.2 628.3L433.7 628.4L434.2 628.5L434.7 628.6L435.2 628.7L435.7 628.7L436.2 628.7L436.7 628.8L437.2 628.8L437.7 628.8L438.2 628.8L438.7 628.9L439.2 628.9L439.7 628.9L468.2 628.9L468.2 628.9L374.2 628.9Z" fill="rgba(98,58,150,0.3)" stroke="none"/>
<path d="M374.2 628.9L374.7 628.9L375.2 628.9L375.7 628.8L376.2 628.8L376.7 628.8L377.2 628.8L377.7 628.8L378.2 628.8L378.7 628.8L379.2 628.7L379.7 628.7L380.2 628.7L380.7 628.7L381.2 628.6L381.7 628.6L382.2 628.5L382.7 628.5L383.2 628.4L383.7 628.3L384.2 628.3L384.7 628.2L385.2 628.1L385.7 628.0L386.2 627.8L386.7 627.7L387.2 627.6L387.7 627.4L388.2 627.2L388.7 627.0L389.2 626.8L389.7 626.5L390.2 626.2L390.7 625.7L391.2 625.0L391.7 623.9L392.2 622.3L392.7 620.0L393.2 616.9L393.7 613.0L394.2 608.5L394.7 603.8L395.2 599.5L395.7 596.3L396.2 594.5L396.7 594.0L397.2 594.4L397.7 595.5L398.2 597.1L398.7 599.0L399.2 601.0L399.7 602.8L400.2 604.4L400.7 605.8L401.2 606.8L401.7 607.6L402.2 608.1L402.7 608.4L403.2 608.6L403.7 608.8L404.2 608.9L404.7 609.0L405.2 609.1L405.7 609.3L406.2 609.4L406.7 609.5L407.2 609.7L407.7 609.8L408.2 609.9L408.7 610.1L409.2 610.2L409.7 610.3L410.2 610.5L410.7 610.6L411.2 610.7L411.7 610.8L412.2 610.9L412.7 611.1L413.2 611.2L413.7 611.4L414.2 611.6L414.7 611.9L415.2 612.1L415.7 612.5L416.2 612.8L416.7 613.2L417.2 613.7L417.7 614.1L418.2 614.7L418.7 615.2L419.2 615.8L419.7 616.4L420.2 617.0L420.7 617.6L421.2 618.3L421.7 618.9L422.2 619.6L422.7 620.2L423.2 620.8L423.7 621.5L424.2 622.1L424.7 622.7L425.2 623.3L425.7 623.8L426.2 624.3L426.7 624.8L427.2 625.3L427.7 625.7L428.2 626.1L428.7 626.4L429.2 626.8L429.7 627.1L430.2 627.3L430.7 627.5L431.2 627.8L431.7 627.9L432.2 628.1L432.7 628.2L433.2 628.3L433.7 628.4L434.2 628.5L434.7 628.6L435.2 628.7L435.7 628.7L436.2 628.7L436.7 628.8L437.2 628.8L437.7 628.8L438.2 628.8L438.7 628.9L439.2 628.9L439.7 628.9L468.2 628.9" fill="none" stroke="#261840" stroke-width="1.2" stroke-linejoin="round"/>
<path d="M374.2 648.0L390.2 648.0L390.7 647.9L391.2 647.8L391.7 647.4L392.2 646.7L392.7 645.3L393.2 643.0L393.7 639.3L394.2 634.4L394.7 628.6L395.2 622.6L395.7 617.8L396.2 615.2L396.7 615.5L397.2 618.6L397.7 623.8L398.2 629.8L398.7 635.5L399.2 640.2L399.7 643.5L400.2 645.7L400.7 646.9L401.2 647.5L401.7 647.8L402.2 647.9L402.7 648.0L468.2 648.0L468.2 648L374.2 648Z" fill="rgba(240,165,50,0.56)" stroke="none"/>
<path d="M374.2 648.0L390.2 648.0L390.7 647.9L391.2 647.8L391.7 647.4L392.2 646.7L392.7 645.3L393.2 643.0L393.7 639.3L394.2 634.4L394.7 628.6L395.2 622.6L395.7 617.8L396.2 615.2L396.7 615.5L397.2 618.6L397.7 623.8L398.2 629.8L398.7 635.5L399.2 640.2L399.7 643.5L400.2 645.7L400.7 646.9L401.2 647.5L401.7 647.8L402.2 647.9L402.7 648.0L468.2 648.0" fill="none" stroke="#dc9a3a" stroke-width="1.2" stroke-linejoin="round"/>
<rect x="373.6" y="445.8" width="95.2" height="202.4" fill="none" stroke="#000" stroke-width="1.55"/>
<text x="226.4" y="483.4" font-size="8" fill="#c8c8c8">Isotype</text>
<text x="226.4" y="500.5" font-size="8" fill="#9a2044">B3 R-A</text>
<text x="226.4" y="516.6" font-size="8" fill="#9a2044">B3 RAN-A</text>
<text x="226.4" y="532.3" font-size="8" fill="#9a2044">B3 Z-A</text>
<text x="226.4" y="549.6" font-size="8" fill="#3a4670">B3 R-ABL2</text>
<text x="226.4" y="566.1" font-size="8" fill="#3a4670">B3 P-A</text>
<text x="226.4" y="582.4" font-size="8" fill="#98c280">B3 S-C</text>
<text x="226.4" y="599" font-size="8" fill="#363048">B3 A-J</text>
<text x="226.4" y="615.3" font-size="8" fill="#363048">B3 P-J</text>
<text x="226.4" y="632.4" font-size="8" fill="#a0c0e4">B3 M-I</text>
<text x="226.4" y="648.5" font-size="8" fill="#e6bf88">B3 E-N</text>
<text x="472.6" y="491.8" font-size="8" fill="#c8c8c8">Isotype</text>
<text x="472.6" y="511.4" font-size="8" fill="#9a2044">B3 R-A</text>
<text x="472.6" y="531.8" font-size="8" fill="#9a2044">B3 RAN-A</text>
<text x="472.6" y="552.1" font-size="8" fill="#3a4670">B3 R-ABL2</text>
<text x="472.6" y="571.5" font-size="8" fill="#3a4670">B3 P-A</text>
<text x="472.6" y="591.7" font-size="8" fill="#98c280">B3 S-C</text>
<text x="472.6" y="610.6" font-size="8" fill="#363048">B3 A-J</text>
<text x="472.6" y="630.7" font-size="8" fill="#363048">B3 P-J</text>
<text x="472.6" y="648.6" font-size="8" fill="#e6bf88">B3 E-N</text>
<text x="29" y="663.2" font-size="7.2" fill="#222">10<tspan font-size="4.6" dy="-3.6">-3</tspan></text>
<text x="51" y="663.2" font-size="7.2" text-anchor="middle" fill="#222">0</text>
<text x="59.7" y="663.2" font-size="7.2" fill="#222">10<tspan font-size="4.6" dy="-3.6">3</tspan></text>
<text x="86.7" y="663.2" font-size="7.2" fill="#222">10<tspan font-size="4.6" dy="-3.6">4</tspan></text>
<text x="108.8" y="663.2" font-size="7.2" fill="#222">10<tspan font-size="4.6" dy="-3.6">5</tspan></text>
<text transform="translate(76.6,675.2) scale(0.689,1)" font-size="8.8" text-anchor="middle" fill="#1a1a1a" font-weight="bold">pSTAT5</text>
<text x="145.8" y="663.2" font-size="7.2" text-anchor="middle" fill="#222">0</text>
<text x="162.3" y="663.2" font-size="7.2" fill="#222">10<tspan font-size="4.6" dy="-3.6">3</tspan></text>
<text x="186.6" y="663.2" font-size="7.2" fill="#222">10<tspan font-size="4.6" dy="-3.6">4</tspan></text>
<text x="208.8" y="663.2" font-size="7.2" fill="#222">10<tspan font-size="4.6" dy="-3.6">5</tspan></text>
<text transform="translate(174.5,675.2) scale(0.674,1)" font-size="8.8" text-anchor="middle" fill="#1a1a1a" font-weight="bold">pCRKL</text>
<text x="274.7" y="663.2" font-size="7.2" fill="#222">10<tspan font-size="4.6" dy="-3.6">-3</tspan></text>
<text x="297.5" y="663.2" font-size="7.2" text-anchor="middle" fill="#222">0</text>
<text x="306" y="663.2" font-size="7.2" fill="#222">10<tspan font-size="4.6" dy="-3.6">3</tspan></text>
<text x="333" y="663.2" font-size="7.2" fill="#222">10<tspan font-size="4.6" dy="-3.6">4</tspan></text>
<text x="354.6" y="663.2" font-size="7.2" fill="#222">10<tspan font-size="4.6" dy="-3.6">5</tspan></text>
<text transform="translate(323.1,675.2) scale(0.743,1)" font-size="8.8" text-anchor="middle" fill="#1a1a1a" font-weight="bold">pERK1/2</text>
<text x="392" y="663.2" font-size="7.2" text-anchor="middle" fill="#222">0</text>
<text x="408.3" y="663.2" font-size="7.2" fill="#222">10<tspan font-size="4.6" dy="-3.6">3</tspan></text>
<text x="433" y="663.2" font-size="7.2" fill="#222">10<tspan font-size="4.6" dy="-3.6">4</tspan></text>
<text x="454.9" y="663.2" font-size="7.2" fill="#222">10<tspan font-size="4.6" dy="-3.6">5</tspan></text>
<text transform="translate(421,675.2) scale(0.706,1)" font-size="8.8" text-anchor="middle" fill="#1a1a1a" font-weight="bold">pS6</text>
<path d="M74.41 648.6V650.6M79.09 648.6V650.6M82.41 648.6V650.6M84.99 648.6V650.6M87.1 648.6V650.6M88.88 648.6V650.6M90.42 648.6V650.6M91.78 648.6V650.6M99.62 648.6V650.6M103.5 648.6V650.6M106.25 648.6V650.6M108.38 648.6V650.6M110.12 648.6V650.6M111.59 648.6V650.6M112.87 648.6V650.6M113.99 648.6V650.6M52.05 648.6V650.6M53.96 648.6V650.6M56.44 648.6V650.6M59.38 648.6V650.6M62.72 648.6V650.6M49.69 648.6V650.6M47.31 648.6V650.6M44.21 648.6V650.6M40.55 648.6V650.6" stroke="#111" stroke-width="0.8"/><path d="M36.4 648.6V651.4M51 648.6V651.4M66.4 648.6V651.4M93 648.6V651.4M115 648.6V651.4" stroke="#111" stroke-width="1"/>
<path d="M176.65 648.6V650.6M180.72 648.6V650.6M183.61 648.6V650.6M185.85 648.6V650.6M187.68 648.6V650.6M189.22 648.6V650.6M190.56 648.6V650.6M191.74 648.6V650.6M199.45 648.6V650.6M203.34 648.6V650.6M206.11 648.6V650.6M208.25 648.6V650.6M210 648.6V650.6M211.48 648.6V650.6M212.76 648.6V650.6M213.89 648.6V650.6M147.43 648.6V650.6M150.4 648.6V650.6M154.25 648.6V650.6M158.81 648.6V650.6M163.98 648.6V650.6M144.55 648.6V650.6M142.26 648.6V650.6M139.29 648.6V650.6M135.78 648.6V650.6" stroke="#111" stroke-width="0.8"/><path d="M145.8 648.6V651.4M169.7 648.6V651.4M192.8 648.6V651.4M214.9 648.6V651.4" stroke="#111" stroke-width="1"/>
<path d="M320.94 648.6V650.6M325.64 648.6V650.6M328.98 648.6V650.6M331.56 648.6V650.6M333.68 648.6V650.6M335.46 648.6V650.6M337.01 648.6V650.6M338.38 648.6V650.6M346.04 648.6V650.6M349.81 648.6V650.6M352.48 648.6V650.6M354.56 648.6V650.6M356.25 648.6V650.6M357.69 648.6V650.6M358.93 648.6V650.6M360.02 648.6V650.6M298.55 648.6V650.6M300.46 648.6V650.6M302.94 648.6V650.6M305.88 648.6V650.6M309.22 648.6V650.6M296.02 648.6V650.6M293.33 648.6V650.6M289.83 648.6V650.6M285.69 648.6V650.6" stroke="#111" stroke-width="0.8"/><path d="M281 648.6V651.4M297.5 648.6V651.4M312.9 648.6V651.4M339.6 648.6V651.4M361 648.6V651.4" stroke="#111" stroke-width="1"/>
<path d="M422.08 648.6V650.6M426.39 648.6V650.6M429.45 648.6V650.6M431.82 648.6V650.6M433.76 648.6V650.6M435.4 648.6V650.6M436.83 648.6V650.6M438.08 648.6V650.6M445.82 648.6V650.6M449.7 648.6V650.6M452.45 648.6V650.6M454.58 648.6V650.6M456.32 648.6V650.6M457.79 648.6V650.6M459.07 648.6V650.6M460.19 648.6V650.6M393.54 648.6V650.6M396.37 648.6V650.6M400.03 648.6V650.6M404.36 648.6V650.6M409.27 648.6V650.6M390.75 648.6V650.6M388.46 648.6V650.6M385.49 648.6V650.6M381.98 648.6V650.6" stroke="#111" stroke-width="0.8"/><path d="M392 648.6V651.4M414.7 648.6V651.4M439.2 648.6V651.4M461.2 648.6V651.4" stroke="#111" stroke-width="1"/>
<path d="M0.7 0V685M0 0.5H520M519.5 0V685M0 684H520" stroke="#000" stroke-width="1.4" fill="none"/>
<rect x="0" y="683" width="520" height="2" fill="#000"/>
</svg>
</body></html>
